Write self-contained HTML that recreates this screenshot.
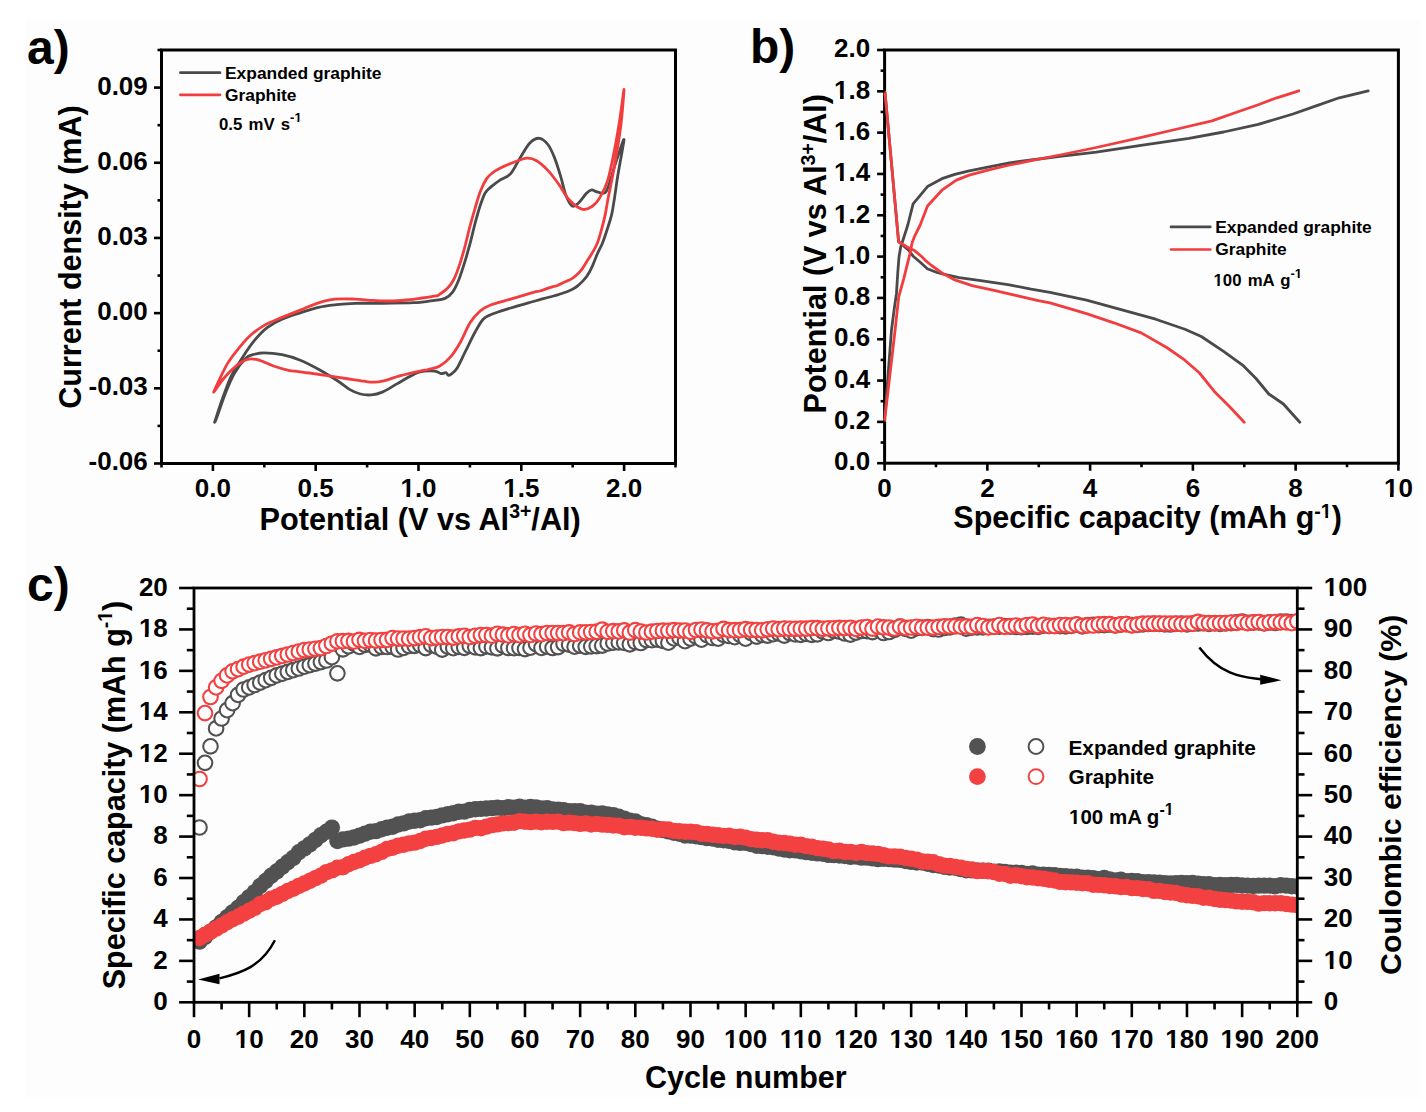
<!DOCTYPE html>
<html><head><meta charset="utf-8"><style>
html,body{margin:0;padding:0;background:#fff;}
svg{display:block;}
text{font-family:"Liberation Sans",sans-serif;font-weight:bold;fill:#000;}
</style></head><body>
<svg width="1426" height="1112" viewBox="0 0 1426 1112" font-family="Liberation Sans, sans-serif" font-weight="bold">
<rect x="0" y="0" width="1426" height="1112" fill="#ffffff"></rect>
<rect x="26" y="19" width="1395" height="1079" fill="#fdfdfd"></rect>
<defs><clipPath id="ca"><rect x="161.5" y="50.0" width="514.0" height="413.5"></rect></clipPath>
<clipPath id="cb"><rect x="883" y="48.5" width="517" height="416.2"></rect></clipPath>
<clipPath id="cc"><rect x="194" y="588" width="1103.4" height="414.3"></rect></clipPath></defs>
<rect x="161.5" y="50.0" width="514.0" height="413.5" fill="none" stroke="#000" stroke-width="3.0"></rect>
<g clip-path="url(#ca)" fill="none" stroke-width="2.8" stroke-linejoin="round" stroke-linecap="round">
<path d="M214.6,422.2 C215.8,418.6 219.2,407.9 221.9,400.3 C224.6,392.7 227.7,383.6 231.0,376.6 C234.3,369.6 238.0,364.5 241.9,358.4 C245.8,352.3 250.4,345.4 254.7,340.2 C259.0,335.0 262.9,330.9 267.5,327.4 C272.1,323.9 276.5,321.6 282.0,319.2 C287.5,316.8 294.2,314.8 300.3,312.8 C306.4,310.8 312.4,308.7 318.5,307.3 C324.6,305.9 330.6,305.3 336.7,304.6 C342.8,303.9 347.4,303.5 355.0,303.3 C362.6,303.1 373.2,303.4 382.3,303.3 C391.4,303.2 403.4,303.0 409.7,302.8 C416.0,302.6 416.1,302.7 420.0,302.3 C423.9,301.9 428.8,301.4 433.0,300.7 C437.2,300.0 441.7,299.8 445.0,298.4 C448.3,297.0 450.3,295.2 452.6,292.1 C454.9,289.0 456.8,284.8 458.9,279.5 C461.0,274.2 463.3,266.7 465.2,260.6 C467.1,254.5 468.5,249.3 470.2,243.0 C471.9,236.7 473.5,229.2 475.2,222.9 C476.9,216.6 478.6,210.3 480.3,205.3 C482.0,200.3 483.4,195.8 485.3,192.7 C487.2,189.5 489.2,188.5 491.6,186.4 C494.1,184.3 496.8,182.2 500.0,180.1 C503.2,178.0 507.3,177.4 510.7,173.6 C514.1,169.8 517.2,162.5 520.4,157.4 C523.6,152.3 526.9,146.0 530.1,142.8 C533.3,139.6 536.5,138.0 539.5,138.3 C542.5,138.6 545.4,141.3 547.9,144.5 C550.4,147.7 552.2,152.0 554.4,157.4 C556.5,162.8 558.9,170.6 560.8,176.8 C562.7,183.0 563.8,189.8 565.7,194.7 C567.6,199.6 570.0,204.7 572.2,206.0 C574.4,207.3 576.3,204.9 578.7,202.7 C581.1,200.5 584.6,195.2 586.7,193.0 C588.9,190.8 589.7,189.9 591.6,189.8 C593.5,189.7 595.7,191.9 598.1,192.2 C600.5,192.5 603.5,195.6 606.2,191.4 C608.9,187.2 611.9,174.4 614.3,167.1 C616.7,159.8 619.1,152.3 620.7,147.7 C622.3,143.1 623.9,138.5 624.0,139.6 C624.1,140.7 622.7,147.9 621.6,154.2 C620.5,160.5 618.7,169.9 617.5,177.5 C616.3,185.1 615.2,193.8 614.2,200.0 C613.2,206.2 612.8,209.6 611.7,214.4 C610.6,219.2 609.0,224.0 607.4,228.8 C605.8,233.6 604.1,239.0 602.4,243.2 C600.7,247.4 599.1,249.9 597.3,254.0 C595.5,258.1 593.4,264.0 591.7,267.6 C590.0,271.2 588.7,273.4 587.2,275.7 C585.7,277.9 584.4,279.3 582.7,281.1 C581.0,282.9 578.8,285.1 576.9,286.5 C575.0,287.9 573.9,288.6 571.5,289.7 C569.1,290.8 565.5,292.2 562.5,293.3 C559.5,294.4 557.2,294.9 553.5,296.0 C549.8,297.1 543.4,298.7 540.0,299.6 C536.6,300.5 538.2,300.1 533.3,301.5 C528.4,302.9 517.7,305.8 510.7,308.0 C503.7,310.2 495.8,312.6 491.2,314.5 C486.6,316.4 485.8,316.3 483.1,319.3 C480.4,322.3 478.0,326.9 475.0,332.3 C472.0,337.7 468.3,345.8 465.3,351.7 C462.3,357.6 459.6,364.1 457.2,367.9 C454.8,371.7 452.3,373.2 450.8,374.4 C449.3,375.6 449.1,375.5 448.3,375.2 C447.5,374.9 447.1,373.0 445.9,372.7 C444.7,372.4 442.9,373.9 441.0,373.6 C439.1,373.3 438.1,371.4 434.6,371.1 C431.1,370.8 424.1,371.0 420.0,371.9 C415.9,372.8 413.6,374.6 409.7,376.6 C405.8,378.6 401.5,381.3 396.9,383.9 C392.3,386.5 386.6,390.3 382.3,392.1 C378.1,393.9 375.0,394.6 371.4,394.9 C367.8,395.2 364.0,394.9 360.4,394.0 C356.8,393.1 353.4,391.7 349.5,389.4 C345.6,387.1 341.9,383.6 336.7,380.3 C331.5,377.0 324.6,372.7 318.5,369.3 C312.4,365.9 306.4,362.6 300.3,360.2 C294.2,357.8 288.1,355.9 282.0,354.7 C275.9,353.5 268.7,352.9 263.8,352.9 C258.9,352.9 255.9,353.8 252.9,354.7 C249.9,355.6 248.7,355.3 245.6,358.4 C242.5,361.4 237.9,367.2 234.6,373.0 C231.2,378.8 228.5,385.4 225.5,393.0 C222.5,400.6 218.2,413.7 216.4,418.6 C214.6,423.5 214.9,421.6 214.6,422.2" stroke="#4a4a4a"></path>
<path d="M213.7,392.1 C214.4,390.4 215.9,386.8 218.2,382.1 C220.5,377.4 224.2,369.1 227.3,363.9 C230.4,358.7 232.8,355.7 236.5,351.1 C240.2,346.5 244.6,340.8 249.2,336.5 C253.8,332.2 258.3,328.8 263.8,325.6 C269.3,322.4 275.9,320.0 282.0,317.4 C288.1,314.8 294.2,312.5 300.3,310.1 C306.4,307.7 312.7,304.6 318.5,302.8 C324.3,301.0 328.8,299.7 334.9,299.1 C341.0,298.5 348.6,298.9 355.0,299.1 C361.4,299.3 367.1,300.1 373.2,300.4 C379.3,300.7 385.3,301.1 391.4,301.0 C397.5,300.9 404.9,300.1 409.7,299.7 C414.5,299.2 415.6,298.9 420.0,298.3 C424.4,297.7 432.9,296.6 436.2,295.9 C439.5,295.2 438.1,295.3 440.0,294.0 C441.9,292.7 445.2,290.7 447.5,288.3 C449.8,285.9 451.7,283.7 453.8,279.5 C455.9,275.3 458.2,268.8 460.1,263.1 C462.0,257.4 463.5,251.8 465.2,245.5 C466.9,239.2 468.5,231.7 470.2,225.4 C471.9,219.1 473.5,213.5 475.2,207.8 C476.9,202.1 478.4,196.2 480.3,191.4 C482.2,186.6 484.4,182.0 486.5,178.9 C488.6,175.8 490.6,174.4 492.8,172.6 C495.1,170.8 496.5,169.9 500.0,168.2 C503.5,166.5 509.4,164.0 513.9,162.3 C518.4,160.6 523.0,158.5 526.8,158.2 C530.6,157.9 533.1,158.7 536.6,160.7 C540.1,162.7 544.1,166.4 547.9,170.4 C551.7,174.4 555.7,180.1 559.2,184.9 C562.7,189.8 565.1,195.4 568.9,199.5 C572.7,203.6 578.1,208.0 581.9,209.2 C585.7,210.4 588.6,208.7 591.6,206.8 C594.6,204.9 597.0,202.4 599.7,197.9 C602.4,193.4 605.4,187.9 607.8,180.1 C610.2,172.3 612.3,161.2 614.3,150.9 C616.3,140.7 618.3,128.8 619.9,118.6 C621.5,108.3 623.9,88.1 624.0,89.4 C624.1,90.8 622.3,113.8 620.7,126.7 C619.1,139.7 616.4,154.9 614.3,167.1 C612.1,179.3 609.3,192.1 607.8,200.0 C606.3,207.9 606.3,209.6 605.3,214.4 C604.3,219.2 603.0,224.0 601.7,228.8 C600.4,233.6 599.0,239.0 597.3,243.2 C595.6,247.4 593.2,251.2 591.6,254.0 C590.0,256.8 589.2,257.6 587.7,260.0 C586.2,262.4 584.3,265.9 582.7,268.1 C581.1,270.4 580.1,271.7 578.2,273.5 C576.3,275.3 573.8,277.5 571.5,278.9 C569.2,280.3 567.0,280.9 564.7,282.0 C562.5,283.1 560.6,284.2 558.0,285.2 C555.4,286.2 552.0,286.9 549.0,287.9 C546.0,288.9 542.6,290.3 540.0,291.0 C537.4,291.7 538.2,290.9 533.3,292.3 C528.4,293.7 517.7,297.0 510.7,299.1 C503.7,301.2 496.3,302.8 491.2,304.8 C486.1,306.8 483.4,308.2 479.9,311.2 C476.4,314.2 473.4,317.5 470.2,322.6 C467.0,327.7 463.7,336.3 460.5,342.0 C457.3,347.7 454.3,352.6 450.8,356.6 C447.3,360.7 443.2,364.2 439.4,366.3 C435.6,368.4 431.3,368.7 428.1,369.5 C424.9,370.3 424.6,370.1 420.0,371.1 C415.4,372.1 406.8,374.0 400.5,375.7 C394.2,377.4 386.9,380.1 382.3,381.2 C377.8,382.3 376.2,382.1 373.2,382.1 C370.2,382.1 368.7,381.8 364.1,381.2 C359.6,380.6 352.0,379.4 345.9,378.5 C339.8,377.6 333.7,376.6 327.6,375.7 C321.5,374.8 314.9,373.8 309.4,373.0 C303.9,372.2 298.4,371.7 294.8,371.2 C291.2,370.7 291.1,371.1 287.5,370.2 C283.9,369.3 277.8,367.4 272.9,365.7 C268.0,364.0 262.6,361.0 258.3,359.9 C254.1,358.8 251.0,358.3 247.4,359.3 C243.8,360.3 240.4,362.5 236.5,365.7 C232.6,368.9 227.3,374.2 223.7,378.5 C220.0,382.8 216.1,389.1 214.6,391.2" stroke="#f23d3f"></path>
</g>
<line x1="154.00" y1="463.50" x2="161.50" y2="463.50" stroke="#000" stroke-width="2.6" stroke-linecap="butt"></line>
<line x1="157.50" y1="425.91" x2="161.50" y2="425.91" stroke="#000" stroke-width="2.6" stroke-linecap="butt"></line>
<line x1="154.00" y1="388.32" x2="161.50" y2="388.32" stroke="#000" stroke-width="2.6" stroke-linecap="butt"></line>
<line x1="157.50" y1="350.73" x2="161.50" y2="350.73" stroke="#000" stroke-width="2.6" stroke-linecap="butt"></line>
<line x1="154.00" y1="313.14" x2="161.50" y2="313.14" stroke="#000" stroke-width="2.6" stroke-linecap="butt"></line>
<line x1="157.50" y1="275.55" x2="161.50" y2="275.55" stroke="#000" stroke-width="2.6" stroke-linecap="butt"></line>
<line x1="154.00" y1="237.95" x2="161.50" y2="237.95" stroke="#000" stroke-width="2.6" stroke-linecap="butt"></line>
<line x1="157.50" y1="200.36" x2="161.50" y2="200.36" stroke="#000" stroke-width="2.6" stroke-linecap="butt"></line>
<line x1="154.00" y1="162.77" x2="161.50" y2="162.77" stroke="#000" stroke-width="2.6" stroke-linecap="butt"></line>
<line x1="157.50" y1="125.18" x2="161.50" y2="125.18" stroke="#000" stroke-width="2.6" stroke-linecap="butt"></line>
<line x1="154.00" y1="87.59" x2="161.50" y2="87.59" stroke="#000" stroke-width="2.6" stroke-linecap="butt"></line>
<line x1="157.50" y1="50.00" x2="161.50" y2="50.00" stroke="#000" stroke-width="2.6" stroke-linecap="butt"></line>
<text x="147.8" y="470.4" font-size="26" text-anchor="end">-0.06</text>
<text x="147.8" y="395.2" font-size="26" text-anchor="end">-0.03</text>
<text x="147.8" y="320.0" font-size="26" text-anchor="end">0.00</text>
<text x="147.8" y="244.9" font-size="26" text-anchor="end">0.03</text>
<text x="147.8" y="169.7" font-size="26" text-anchor="end">0.06</text>
<text x="147.8" y="94.5" font-size="26" text-anchor="end">0.09</text>
<line x1="161.50" y1="463.50" x2="161.50" y2="467.50" stroke="#000" stroke-width="2.6" stroke-linecap="butt"></line>
<line x1="212.90" y1="463.50" x2="212.90" y2="471.00" stroke="#000" stroke-width="2.6" stroke-linecap="butt"></line>
<line x1="264.30" y1="463.50" x2="264.30" y2="467.50" stroke="#000" stroke-width="2.6" stroke-linecap="butt"></line>
<line x1="315.70" y1="463.50" x2="315.70" y2="471.00" stroke="#000" stroke-width="2.6" stroke-linecap="butt"></line>
<line x1="367.10" y1="463.50" x2="367.10" y2="467.50" stroke="#000" stroke-width="2.6" stroke-linecap="butt"></line>
<line x1="418.50" y1="463.50" x2="418.50" y2="471.00" stroke="#000" stroke-width="2.6" stroke-linecap="butt"></line>
<line x1="469.90" y1="463.50" x2="469.90" y2="467.50" stroke="#000" stroke-width="2.6" stroke-linecap="butt"></line>
<line x1="521.30" y1="463.50" x2="521.30" y2="471.00" stroke="#000" stroke-width="2.6" stroke-linecap="butt"></line>
<line x1="572.70" y1="463.50" x2="572.70" y2="467.50" stroke="#000" stroke-width="2.6" stroke-linecap="butt"></line>
<line x1="624.10" y1="463.50" x2="624.10" y2="471.00" stroke="#000" stroke-width="2.6" stroke-linecap="butt"></line>
<line x1="675.50" y1="463.50" x2="675.50" y2="467.50" stroke="#000" stroke-width="2.6" stroke-linecap="butt"></line>
<text x="212.9" y="497.0" font-size="26" text-anchor="middle">0.0</text>
<text x="315.7" y="497.0" font-size="26" text-anchor="middle">0.5</text>
<text x="418.5" y="497.0" font-size="26" text-anchor="middle">1.0</text><rect x="410.11" y="493.75" width="5.15" height="3.95" fill="#fdfdfd"></rect><rect x="400.96" y="493.75" width="5.48" height="3.95" fill="#fdfdfd"></rect>
<text x="521.3" y="497.0" font-size="26" text-anchor="middle">1.5</text><rect x="512.91" y="493.75" width="5.15" height="3.95" fill="#fdfdfd"></rect><rect x="503.76" y="493.75" width="5.48" height="3.95" fill="#fdfdfd"></rect>
<text x="624.1" y="497.0" font-size="26" text-anchor="middle">2.0</text>
<text x="259.6" y="530.2" font-size="30.7">Potential (V vs Al<tspan font-size="19.5" dy="-11.8">3+</tspan><tspan dy="11.8">/Al)</tspan></text>
<g transform="translate(80.5,257) rotate(-90)"><text x="0" y="0" font-size="30.5" text-anchor="middle">Current density (mA)</text></g>
<text x="27.0" y="64.0" font-size="48" text-anchor="start">a)</text>
<line x1="180.40" y1="72.70" x2="220.00" y2="72.70" stroke="#4a4a4a" stroke-width="2.7" stroke-linecap="round"></line>
<line x1="180.40" y1="94.80" x2="220.00" y2="94.80" stroke="#f23d3f" stroke-width="2.7" stroke-linecap="round"></line>
<text x="225.0" y="78.9" font-size="17.4" text-anchor="start">Expanded graphite</text>
<text x="225.0" y="100.5" font-size="17.4" text-anchor="start">Graphite</text>
<text x="219" y="129.8" font-size="16.8" word-spacing="1.5">0.5 mV s<tspan font-size="13" dy="-7.4">-1</tspan></text><rect x="299.31" y="120.47" width="3.10" height="2.63" fill="#fdfdfd"></rect><rect x="294.16" y="120.47" width="3.27" height="2.63" fill="#fdfdfd"></rect>
<rect x="884.6" y="50.0" width="513.8000000000001" height="413.2" fill="none" stroke="#000" stroke-width="3.0"></rect>
<g clip-path="url(#cb)" fill="none" stroke-width="2.8" stroke-linejoin="round" stroke-linecap="round">
<path d="M885.0,415.0 L891.5,330.0 L894.4,307.6 L896.5,293.2 L897.8,272.0 L899.0,257.0 L900.8,246.6 L903.5,238.5 L907.8,225.0 L913.1,203.9 L927.5,186.6 L941.9,178.7 L954.8,174.4 L969.2,170.8 L987.9,167.2 L1009.5,162.9 L1031.1,160.0 L1060.0,156.4 L1096.3,152.2 L1142.6,145.2 L1188.9,138.3 L1223.6,132.0 L1258.3,124.4 L1293.0,114.0 L1316.1,105.9 L1339.3,97.8 L1368.2,90.8" stroke="#4a4a4a"></path>
<path d="M885.0,92.4 L898.6,241.7 L908.9,250.4 L913.2,256.3 L920.8,262.8 L927.3,268.7 L937.0,272.5 L943.3,274.1 L959.1,277.7 L980.7,280.6 L1009.5,284.9 L1031.1,289.2 L1050.0,292.4 L1086.5,300.1 L1122.9,310.1 L1155.7,319.2 L1184.9,329.2 L1201.3,336.5 L1223.2,351.1 L1243.3,365.7 L1256.0,378.5 L1268.8,394.0 L1283.4,404.0 L1299.8,422.2" stroke="#4a4a4a"></path>
<path d="M884.6,420.7 L895.1,330.0 L898.7,296.8 L903.7,278.8 L907.3,264.4 L910.3,252.3 L912.1,242.8 L914.8,235.8 L920.2,225.0 L927.5,206.0 L941.9,190.2 L956.3,180.1 L969.2,175.1 L987.9,170.1 L1009.5,165.0 L1031.1,160.7 L1060.0,155.0 L1096.3,147.5 L1142.6,137.1 L1177.3,129.0 L1212.0,120.9 L1235.1,112.8 L1258.3,104.7 L1276.8,97.8 L1298.8,90.8" stroke="#f23d3f"></path>
<path d="M885.0,92.4 L898.6,241.7 L910.0,248.7 L914.3,250.4 L921.9,256.8 L926.2,261.2 L931.6,265.5 L943.0,273.6 L954.8,279.9 L972.1,285.6 L995.1,290.6 L1016.7,295.7 L1038.3,300.7 L1050.0,302.8 L1086.5,313.7 L1113.8,322.8 L1141.2,332.9 L1166.7,347.5 L1184.9,360.2 L1199.5,373.0 L1214.1,391.2 L1228.7,405.8 L1244.2,422.2" stroke="#f23d3f"></path>
</g>
<line x1="877.10" y1="463.20" x2="884.60" y2="463.20" stroke="#000" stroke-width="2.6" stroke-linecap="butt"></line>
<line x1="880.60" y1="442.54" x2="884.60" y2="442.54" stroke="#000" stroke-width="2.6" stroke-linecap="butt"></line>
<line x1="877.10" y1="421.88" x2="884.60" y2="421.88" stroke="#000" stroke-width="2.6" stroke-linecap="butt"></line>
<line x1="880.60" y1="401.22" x2="884.60" y2="401.22" stroke="#000" stroke-width="2.6" stroke-linecap="butt"></line>
<line x1="877.10" y1="380.56" x2="884.60" y2="380.56" stroke="#000" stroke-width="2.6" stroke-linecap="butt"></line>
<line x1="880.60" y1="359.90" x2="884.60" y2="359.90" stroke="#000" stroke-width="2.6" stroke-linecap="butt"></line>
<line x1="877.10" y1="339.24" x2="884.60" y2="339.24" stroke="#000" stroke-width="2.6" stroke-linecap="butt"></line>
<line x1="880.60" y1="318.58" x2="884.60" y2="318.58" stroke="#000" stroke-width="2.6" stroke-linecap="butt"></line>
<line x1="877.10" y1="297.92" x2="884.60" y2="297.92" stroke="#000" stroke-width="2.6" stroke-linecap="butt"></line>
<line x1="880.60" y1="277.26" x2="884.60" y2="277.26" stroke="#000" stroke-width="2.6" stroke-linecap="butt"></line>
<line x1="877.10" y1="256.60" x2="884.60" y2="256.60" stroke="#000" stroke-width="2.6" stroke-linecap="butt"></line>
<line x1="880.60" y1="235.94" x2="884.60" y2="235.94" stroke="#000" stroke-width="2.6" stroke-linecap="butt"></line>
<line x1="877.10" y1="215.28" x2="884.60" y2="215.28" stroke="#000" stroke-width="2.6" stroke-linecap="butt"></line>
<line x1="880.60" y1="194.62" x2="884.60" y2="194.62" stroke="#000" stroke-width="2.6" stroke-linecap="butt"></line>
<line x1="877.10" y1="173.96" x2="884.60" y2="173.96" stroke="#000" stroke-width="2.6" stroke-linecap="butt"></line>
<line x1="880.60" y1="153.30" x2="884.60" y2="153.30" stroke="#000" stroke-width="2.6" stroke-linecap="butt"></line>
<line x1="877.10" y1="132.64" x2="884.60" y2="132.64" stroke="#000" stroke-width="2.6" stroke-linecap="butt"></line>
<line x1="880.60" y1="111.98" x2="884.60" y2="111.98" stroke="#000" stroke-width="2.6" stroke-linecap="butt"></line>
<line x1="877.10" y1="91.32" x2="884.60" y2="91.32" stroke="#000" stroke-width="2.6" stroke-linecap="butt"></line>
<line x1="880.60" y1="70.66" x2="884.60" y2="70.66" stroke="#000" stroke-width="2.6" stroke-linecap="butt"></line>
<line x1="877.10" y1="50.00" x2="884.60" y2="50.00" stroke="#000" stroke-width="2.6" stroke-linecap="butt"></line>
<text x="870.2" y="470.4" font-size="26" text-anchor="end">0.0</text>
<text x="870.2" y="429.1" font-size="26" text-anchor="end">0.2</text>
<text x="870.2" y="387.8" font-size="26" text-anchor="end">0.4</text>
<text x="870.2" y="346.4" font-size="26" text-anchor="end">0.6</text>
<text x="870.2" y="305.1" font-size="26" text-anchor="end">0.8</text>
<text x="870.2" y="263.8" font-size="26" text-anchor="end">1.0</text><rect x="843.73" y="260.55" width="5.15" height="3.95" fill="#fdfdfd"></rect><rect x="834.58" y="260.55" width="5.48" height="3.95" fill="#fdfdfd"></rect>
<text x="870.2" y="222.5" font-size="26" text-anchor="end">1.2</text><rect x="843.73" y="219.25" width="5.15" height="3.95" fill="#fdfdfd"></rect><rect x="834.58" y="219.25" width="5.48" height="3.95" fill="#fdfdfd"></rect>
<text x="870.2" y="181.2" font-size="26" text-anchor="end">1.4</text><rect x="843.73" y="177.95" width="5.15" height="3.95" fill="#fdfdfd"></rect><rect x="834.58" y="177.95" width="5.48" height="3.95" fill="#fdfdfd"></rect>
<text x="870.2" y="139.8" font-size="26" text-anchor="end">1.6</text><rect x="843.73" y="136.55" width="5.15" height="3.95" fill="#fdfdfd"></rect><rect x="834.58" y="136.55" width="5.48" height="3.95" fill="#fdfdfd"></rect>
<text x="870.2" y="98.5" font-size="26" text-anchor="end">1.8</text><rect x="843.73" y="95.25" width="5.15" height="3.95" fill="#fdfdfd"></rect><rect x="834.58" y="95.25" width="5.48" height="3.95" fill="#fdfdfd"></rect>
<text x="870.2" y="57.2" font-size="26" text-anchor="end">2.0</text>
<line x1="884.60" y1="463.20" x2="884.60" y2="470.70" stroke="#000" stroke-width="2.6" stroke-linecap="butt"></line>
<line x1="935.98" y1="463.20" x2="935.98" y2="467.20" stroke="#000" stroke-width="2.6" stroke-linecap="butt"></line>
<line x1="987.36" y1="463.20" x2="987.36" y2="470.70" stroke="#000" stroke-width="2.6" stroke-linecap="butt"></line>
<line x1="1038.74" y1="463.20" x2="1038.74" y2="467.20" stroke="#000" stroke-width="2.6" stroke-linecap="butt"></line>
<line x1="1090.12" y1="463.20" x2="1090.12" y2="470.70" stroke="#000" stroke-width="2.6" stroke-linecap="butt"></line>
<line x1="1141.50" y1="463.20" x2="1141.50" y2="467.20" stroke="#000" stroke-width="2.6" stroke-linecap="butt"></line>
<line x1="1192.88" y1="463.20" x2="1192.88" y2="470.70" stroke="#000" stroke-width="2.6" stroke-linecap="butt"></line>
<line x1="1244.26" y1="463.20" x2="1244.26" y2="467.20" stroke="#000" stroke-width="2.6" stroke-linecap="butt"></line>
<line x1="1295.64" y1="463.20" x2="1295.64" y2="470.70" stroke="#000" stroke-width="2.6" stroke-linecap="butt"></line>
<line x1="1347.02" y1="463.20" x2="1347.02" y2="467.20" stroke="#000" stroke-width="2.6" stroke-linecap="butt"></line>
<line x1="1398.40" y1="463.20" x2="1398.40" y2="470.70" stroke="#000" stroke-width="2.6" stroke-linecap="butt"></line>
<text x="884.6" y="496.8" font-size="26" text-anchor="middle">0</text>
<text x="987.4" y="496.8" font-size="26" text-anchor="middle">2</text>
<text x="1090.1" y="496.8" font-size="26" text-anchor="middle">4</text>
<text x="1192.9" y="496.8" font-size="26" text-anchor="middle">6</text>
<text x="1295.6" y="496.8" font-size="26" text-anchor="middle">8</text>
<text x="1398.4" y="496.8" font-size="26" text-anchor="middle">10</text><rect x="1393.62" y="493.55" width="5.15" height="3.95" fill="#fdfdfd"></rect><rect x="1384.48" y="493.55" width="5.48" height="3.95" fill="#fdfdfd"></rect>
<g transform="translate(826.3,253.7) rotate(-90)"><text x="0" y="0" font-size="30.5" text-anchor="middle">Potential (V vs Al<tspan font-size="19.5" dy="-11.8">3+</tspan><tspan dy="11.8">/Al)</tspan></text></g>
<text x="1147.6" y="528.2" font-size="30.5" text-anchor="middle">Specific capacity (mAh g<tspan font-size="19.5" dy="-10.5">-1</tspan><tspan dy="10.5">)</tspan></text><rect x="1328.12" y="515.11" width="4.13" height="3.29" fill="#fdfdfd"></rect><rect x="1320.97" y="515.11" width="4.37" height="3.29" fill="#fdfdfd"></rect>
<text x="750.0" y="62.8" font-size="48" text-anchor="start">b)</text>
<line x1="1171.00" y1="226.90" x2="1210.30" y2="226.90" stroke="#4a4a4a" stroke-width="2.7" stroke-linecap="round"></line>
<line x1="1171.00" y1="249.50" x2="1210.30" y2="249.50" stroke="#f23d3f" stroke-width="2.7" stroke-linecap="round"></line>
<text x="1215.2" y="232.6" font-size="17.4" text-anchor="start">Expanded graphite</text>
<text x="1215.2" y="255.2" font-size="17.4" text-anchor="start">Graphite</text>
<text x="1213.5" y="285.8" font-size="16.8" word-spacing="1.5">100 mA g<tspan font-size="13" dy="-7.4">-1</tspan></text><rect x="1299.70" y="276.47" width="3.10" height="2.63" fill="#fdfdfd"></rect><rect x="1294.55" y="276.47" width="3.27" height="2.63" fill="#fdfdfd"></rect><rect x="1219.78" y="283.49" width="3.70" height="3.01" fill="#fdfdfd"></rect><rect x="1213.46" y="283.49" width="3.91" height="3.01" fill="#fdfdfd"></rect>
<g clip-path="url(#cc)">
<g fill="#525252"><circle cx="199.5" cy="941.6" r="8.2"></circle><circle cx="205.0" cy="936.9" r="8.2"></circle><circle cx="210.5" cy="931.8" r="8.2"></circle><circle cx="216.1" cy="927.4" r="8.2"></circle><circle cx="221.6" cy="922.0" r="8.2"></circle><circle cx="227.1" cy="917.3" r="8.2"></circle><circle cx="232.6" cy="912.4" r="8.2"></circle><circle cx="238.1" cy="907.7" r="8.2"></circle><circle cx="243.6" cy="902.2" r="8.2"></circle><circle cx="249.2" cy="897.1" r="8.2"></circle><circle cx="254.7" cy="892.1" r="8.2"></circle><circle cx="260.2" cy="886.0" r="8.2"></circle><circle cx="265.7" cy="881.0" r="8.2"></circle><circle cx="271.2" cy="875.8" r="8.2"></circle><circle cx="276.7" cy="871.5" r="8.2"></circle><circle cx="282.3" cy="866.8" r="8.2"></circle><circle cx="287.8" cy="862.2" r="8.2"></circle><circle cx="293.3" cy="857.9" r="8.2"></circle><circle cx="298.8" cy="852.3" r="8.2"></circle><circle cx="304.3" cy="848.4" r="8.2"></circle><circle cx="309.8" cy="844.4" r="8.2"></circle><circle cx="315.4" cy="839.9" r="8.2"></circle><circle cx="320.9" cy="835.3" r="8.2"></circle><circle cx="326.4" cy="831.7" r="8.2"></circle><circle cx="331.9" cy="827.6" r="8.2"></circle><circle cx="337.4" cy="841.0" r="8.2"></circle><circle cx="342.9" cy="839.4" r="8.2"></circle><circle cx="348.5" cy="838.6" r="8.2"></circle><circle cx="354.0" cy="837.5" r="8.2"></circle><circle cx="359.5" cy="835.6" r="8.2"></circle><circle cx="365.0" cy="833.6" r="8.2"></circle><circle cx="370.5" cy="831.6" r="8.2"></circle><circle cx="376.0" cy="831.1" r="8.2"></circle><circle cx="381.6" cy="829.3" r="8.2"></circle><circle cx="387.1" cy="827.7" r="8.2"></circle><circle cx="392.6" cy="826.7" r="8.2"></circle><circle cx="398.1" cy="824.5" r="8.2"></circle><circle cx="403.6" cy="823.4" r="8.2"></circle><circle cx="409.1" cy="821.5" r="8.2"></circle><circle cx="414.7" cy="820.8" r="8.2"></circle><circle cx="420.2" cy="820.3" r="8.2"></circle><circle cx="425.7" cy="818.3" r="8.2"></circle><circle cx="431.2" cy="817.6" r="8.2"></circle><circle cx="436.7" cy="817.0" r="8.2"></circle><circle cx="442.2" cy="815.4" r="8.2"></circle><circle cx="447.8" cy="814.3" r="8.2"></circle><circle cx="453.3" cy="813.3" r="8.2"></circle><circle cx="458.8" cy="811.8" r="8.2"></circle><circle cx="464.3" cy="811.6" r="8.2"></circle><circle cx="469.8" cy="810.0" r="8.2"></circle><circle cx="475.3" cy="809.2" r="8.2"></circle><circle cx="480.9" cy="808.9" r="8.2"></circle><circle cx="486.4" cy="808.5" r="8.2"></circle><circle cx="491.9" cy="808.1" r="8.2"></circle><circle cx="497.4" cy="807.6" r="8.2"></circle><circle cx="502.9" cy="808.2" r="8.2"></circle><circle cx="508.4" cy="807.1" r="8.2"></circle><circle cx="514.0" cy="807.7" r="8.2"></circle><circle cx="519.5" cy="806.8" r="8.2"></circle><circle cx="525.0" cy="807.7" r="8.2"></circle><circle cx="530.5" cy="807.0" r="8.2"></circle><circle cx="536.0" cy="807.4" r="8.2"></circle><circle cx="541.5" cy="808.4" r="8.2"></circle><circle cx="547.1" cy="808.1" r="8.2"></circle><circle cx="552.6" cy="809.4" r="8.2"></circle><circle cx="558.1" cy="809.6" r="8.2"></circle><circle cx="563.6" cy="810.2" r="8.2"></circle><circle cx="569.1" cy="811.2" r="8.2"></circle><circle cx="574.6" cy="811.1" r="8.2"></circle><circle cx="580.2" cy="811.1" r="8.2"></circle><circle cx="585.7" cy="812.8" r="8.2"></circle><circle cx="591.2" cy="812.6" r="8.2"></circle><circle cx="596.7" cy="813.6" r="8.2"></circle><circle cx="602.2" cy="813.4" r="8.2"></circle><circle cx="607.7" cy="814.4" r="8.2"></circle><circle cx="613.3" cy="815.1" r="8.2"></circle><circle cx="618.8" cy="816.8" r="8.2"></circle><circle cx="624.3" cy="818.6" r="8.2"></circle><circle cx="629.8" cy="820.8" r="8.2"></circle><circle cx="635.3" cy="821.4" r="8.2"></circle><circle cx="640.8" cy="824.1" r="8.2"></circle><circle cx="646.4" cy="825.1" r="8.2"></circle><circle cx="651.9" cy="826.7" r="8.2"></circle><circle cx="657.4" cy="828.8" r="8.2"></circle><circle cx="662.9" cy="830.1" r="8.2"></circle><circle cx="668.4" cy="831.4" r="8.2"></circle><circle cx="673.9" cy="832.7" r="8.2"></circle><circle cx="679.5" cy="833.8" r="8.2"></circle><circle cx="685.0" cy="835.5" r="8.2"></circle><circle cx="690.5" cy="835.6" r="8.2"></circle><circle cx="696.0" cy="836.3" r="8.2"></circle><circle cx="701.5" cy="837.1" r="8.2"></circle><circle cx="707.0" cy="838.1" r="8.2"></circle><circle cx="712.6" cy="838.5" r="8.2"></circle><circle cx="718.1" cy="839.7" r="8.2"></circle><circle cx="723.6" cy="840.3" r="8.2"></circle><circle cx="729.1" cy="840.9" r="8.2"></circle><circle cx="734.6" cy="842.3" r="8.2"></circle><circle cx="740.1" cy="842.9" r="8.2"></circle><circle cx="745.6" cy="842.8" r="8.2"></circle><circle cx="751.2" cy="844.1" r="8.2"></circle><circle cx="756.7" cy="845.8" r="8.2"></circle><circle cx="762.2" cy="846.1" r="8.2"></circle><circle cx="767.7" cy="846.7" r="8.2"></circle><circle cx="773.2" cy="847.3" r="8.2"></circle><circle cx="778.7" cy="848.5" r="8.2"></circle><circle cx="784.3" cy="849.5" r="8.2"></circle><circle cx="789.8" cy="850.2" r="8.2"></circle><circle cx="795.3" cy="850.4" r="8.2"></circle><circle cx="800.8" cy="851.2" r="8.2"></circle><circle cx="806.3" cy="852.1" r="8.2"></circle><circle cx="811.8" cy="852.7" r="8.2"></circle><circle cx="817.4" cy="853.4" r="8.2"></circle><circle cx="822.9" cy="853.7" r="8.2"></circle><circle cx="828.4" cy="854.9" r="8.2"></circle><circle cx="833.9" cy="855.1" r="8.2"></circle><circle cx="839.4" cy="855.5" r="8.2"></circle><circle cx="844.9" cy="856.0" r="8.2"></circle><circle cx="850.5" cy="856.9" r="8.2"></circle><circle cx="856.0" cy="856.5" r="8.2"></circle><circle cx="861.5" cy="857.6" r="8.2"></circle><circle cx="867.0" cy="857.6" r="8.2"></circle><circle cx="872.5" cy="858.4" r="8.2"></circle><circle cx="878.0" cy="859.1" r="8.2"></circle><circle cx="883.6" cy="858.8" r="8.2"></circle><circle cx="889.1" cy="859.1" r="8.2"></circle><circle cx="894.6" cy="859.6" r="8.2"></circle><circle cx="900.1" cy="859.9" r="8.2"></circle><circle cx="905.6" cy="861.0" r="8.2"></circle><circle cx="911.1" cy="861.9" r="8.2"></circle><circle cx="916.7" cy="862.5" r="8.2"></circle><circle cx="922.2" cy="862.5" r="8.2"></circle><circle cx="927.7" cy="863.7" r="8.2"></circle><circle cx="933.2" cy="865.0" r="8.2"></circle><circle cx="938.7" cy="865.5" r="8.2"></circle><circle cx="944.2" cy="866.7" r="8.2"></circle><circle cx="949.8" cy="867.5" r="8.2"></circle><circle cx="955.3" cy="867.8" r="8.2"></circle><circle cx="960.8" cy="869.1" r="8.2"></circle><circle cx="966.3" cy="870.3" r="8.2"></circle><circle cx="971.8" cy="870.4" r="8.2"></circle><circle cx="977.3" cy="870.4" r="8.2"></circle><circle cx="982.9" cy="870.7" r="8.2"></circle><circle cx="988.4" cy="870.7" r="8.2"></circle><circle cx="993.9" cy="871.7" r="8.2"></circle><circle cx="999.4" cy="871.5" r="8.2"></circle><circle cx="1004.9" cy="872.0" r="8.2"></circle><circle cx="1010.4" cy="872.6" r="8.2"></circle><circle cx="1016.0" cy="872.6" r="8.2"></circle><circle cx="1021.5" cy="873.0" r="8.2"></circle><circle cx="1027.0" cy="873.9" r="8.2"></circle><circle cx="1032.5" cy="873.5" r="8.2"></circle><circle cx="1038.0" cy="874.7" r="8.2"></circle><circle cx="1043.5" cy="874.6" r="8.2"></circle><circle cx="1049.1" cy="875.0" r="8.2"></circle><circle cx="1054.6" cy="875.2" r="8.2"></circle><circle cx="1060.1" cy="876.0" r="8.2"></circle><circle cx="1065.6" cy="876.2" r="8.2"></circle><circle cx="1071.1" cy="876.6" r="8.2"></circle><circle cx="1076.6" cy="876.6" r="8.2"></circle><circle cx="1082.2" cy="877.7" r="8.2"></circle><circle cx="1087.7" cy="877.8" r="8.2"></circle><circle cx="1093.2" cy="878.3" r="8.2"></circle><circle cx="1098.7" cy="879.1" r="8.2"></circle><circle cx="1104.2" cy="878.0" r="8.2"></circle><circle cx="1109.7" cy="879.5" r="8.2"></circle><circle cx="1115.3" cy="880.4" r="8.2"></circle><circle cx="1120.8" cy="879.8" r="8.2"></circle><circle cx="1126.3" cy="881.1" r="8.2"></circle><circle cx="1131.8" cy="881.0" r="8.2"></circle><circle cx="1137.3" cy="881.2" r="8.2"></circle><circle cx="1142.8" cy="882.2" r="8.2"></circle><circle cx="1148.4" cy="882.3" r="8.2"></circle><circle cx="1153.9" cy="882.5" r="8.2"></circle><circle cx="1159.4" cy="882.6" r="8.2"></circle><circle cx="1164.9" cy="883.3" r="8.2"></circle><circle cx="1170.4" cy="883.4" r="8.2"></circle><circle cx="1175.9" cy="883.2" r="8.2"></circle><circle cx="1181.5" cy="882.9" r="8.2"></circle><circle cx="1187.0" cy="883.3" r="8.2"></circle><circle cx="1192.5" cy="883.0" r="8.2"></circle><circle cx="1198.0" cy="883.6" r="8.2"></circle><circle cx="1203.5" cy="884.3" r="8.2"></circle><circle cx="1209.0" cy="884.3" r="8.2"></circle><circle cx="1214.6" cy="885.2" r="8.2"></circle><circle cx="1220.1" cy="885.0" r="8.2"></circle><circle cx="1225.6" cy="885.2" r="8.2"></circle><circle cx="1231.1" cy="885.0" r="8.2"></circle><circle cx="1236.6" cy="884.9" r="8.2"></circle><circle cx="1242.1" cy="885.5" r="8.2"></circle><circle cx="1247.7" cy="885.6" r="8.2"></circle><circle cx="1253.2" cy="886.0" r="8.2"></circle><circle cx="1258.7" cy="885.6" r="8.2"></circle><circle cx="1264.2" cy="885.6" r="8.2"></circle><circle cx="1269.7" cy="885.6" r="8.2"></circle><circle cx="1275.2" cy="886.2" r="8.2"></circle><circle cx="1280.8" cy="885.2" r="8.2"></circle><circle cx="1286.3" cy="885.6" r="8.2"></circle><circle cx="1291.8" cy="886.2" r="8.2"></circle><circle cx="1297.3" cy="886.5" r="8.2"></circle></g>
<g fill="#ffffff" stroke="#525252" stroke-width="2.1"><circle cx="199.5" cy="827.5" r="7.3"></circle><circle cx="205.0" cy="762.8" r="7.3"></circle><circle cx="210.5" cy="746.3" r="7.3"></circle><circle cx="216.1" cy="728.4" r="7.3"></circle><circle cx="221.6" cy="718.5" r="7.3"></circle><circle cx="227.1" cy="710.2" r="7.3"></circle><circle cx="232.6" cy="703.2" r="7.3"></circle><circle cx="238.1" cy="694.9" r="7.3"></circle><circle cx="243.6" cy="689.5" r="7.3"></circle><circle cx="249.2" cy="687.4" r="7.3"></circle><circle cx="254.7" cy="685.0" r="7.3"></circle><circle cx="260.2" cy="682.6" r="7.3"></circle><circle cx="265.7" cy="680.2" r="7.3"></circle><circle cx="271.2" cy="677.8" r="7.3"></circle><circle cx="276.7" cy="675.4" r="7.3"></circle><circle cx="282.3" cy="673.7" r="7.3"></circle><circle cx="287.8" cy="671.9" r="7.3"></circle><circle cx="293.3" cy="670.2" r="7.3"></circle><circle cx="298.8" cy="668.5" r="7.3"></circle><circle cx="304.3" cy="666.7" r="7.3"></circle><circle cx="309.8" cy="665.2" r="7.3"></circle><circle cx="315.4" cy="663.6" r="7.3"></circle><circle cx="320.9" cy="662.1" r="7.3"></circle><circle cx="326.4" cy="660.5" r="7.3"></circle><circle cx="331.9" cy="657.2" r="7.3"></circle><circle cx="337.4" cy="673.3" r="7.3"></circle><circle cx="342.9" cy="649.3" r="7.3"></circle><circle cx="348.5" cy="646.3" r="7.3"></circle><circle cx="354.0" cy="643.6" r="7.3"></circle><circle cx="359.5" cy="646.9" r="7.3"></circle><circle cx="365.0" cy="644.8" r="7.3"></circle><circle cx="370.5" cy="644.7" r="7.3"></circle><circle cx="376.0" cy="648.3" r="7.3"></circle><circle cx="381.6" cy="646.8" r="7.3"></circle><circle cx="387.1" cy="647.0" r="7.3"></circle><circle cx="392.6" cy="646.8" r="7.3"></circle><circle cx="398.1" cy="649.5" r="7.3"></circle><circle cx="403.6" cy="647.9" r="7.3"></circle><circle cx="409.1" cy="646.0" r="7.3"></circle><circle cx="414.7" cy="645.8" r="7.3"></circle><circle cx="420.2" cy="645.0" r="7.3"></circle><circle cx="425.7" cy="648.1" r="7.3"></circle><circle cx="431.2" cy="644.9" r="7.3"></circle><circle cx="436.7" cy="646.7" r="7.3"></circle><circle cx="442.2" cy="649.6" r="7.3"></circle><circle cx="447.8" cy="646.6" r="7.3"></circle><circle cx="453.3" cy="648.2" r="7.3"></circle><circle cx="458.8" cy="646.9" r="7.3"></circle><circle cx="464.3" cy="647.8" r="7.3"></circle><circle cx="469.8" cy="645.9" r="7.3"></circle><circle cx="475.3" cy="647.3" r="7.3"></circle><circle cx="480.9" cy="648.1" r="7.3"></circle><circle cx="486.4" cy="646.3" r="7.3"></circle><circle cx="491.9" cy="647.3" r="7.3"></circle><circle cx="497.4" cy="648.3" r="7.3"></circle><circle cx="502.9" cy="645.7" r="7.3"></circle><circle cx="508.4" cy="648.0" r="7.3"></circle><circle cx="514.0" cy="648.2" r="7.3"></circle><circle cx="519.5" cy="647.9" r="7.3"></circle><circle cx="525.0" cy="649.1" r="7.3"></circle><circle cx="530.5" cy="647.7" r="7.3"></circle><circle cx="536.0" cy="644.1" r="7.3"></circle><circle cx="541.5" cy="647.9" r="7.3"></circle><circle cx="547.1" cy="646.5" r="7.3"></circle><circle cx="552.6" cy="648.0" r="7.3"></circle><circle cx="558.1" cy="647.1" r="7.3"></circle><circle cx="563.6" cy="643.9" r="7.3"></circle><circle cx="569.1" cy="644.7" r="7.3"></circle><circle cx="574.6" cy="646.7" r="7.3"></circle><circle cx="580.2" cy="645.7" r="7.3"></circle><circle cx="585.7" cy="646.8" r="7.3"></circle><circle cx="591.2" cy="646.3" r="7.3"></circle><circle cx="596.7" cy="646.1" r="7.3"></circle><circle cx="602.2" cy="645.6" r="7.3"></circle><circle cx="607.7" cy="643.5" r="7.3"></circle><circle cx="613.3" cy="642.7" r="7.3"></circle><circle cx="618.8" cy="642.4" r="7.3"></circle><circle cx="624.3" cy="642.9" r="7.3"></circle><circle cx="629.8" cy="644.3" r="7.3"></circle><circle cx="635.3" cy="642.1" r="7.3"></circle><circle cx="640.8" cy="643.0" r="7.3"></circle><circle cx="646.4" cy="640.1" r="7.3"></circle><circle cx="651.9" cy="640.2" r="7.3"></circle><circle cx="657.4" cy="639.6" r="7.3"></circle><circle cx="662.9" cy="640.9" r="7.3"></circle><circle cx="668.4" cy="642.7" r="7.3"></circle><circle cx="673.9" cy="638.4" r="7.3"></circle><circle cx="679.5" cy="637.6" r="7.3"></circle><circle cx="685.0" cy="641.2" r="7.3"></circle><circle cx="690.5" cy="638.6" r="7.3"></circle><circle cx="696.0" cy="636.7" r="7.3"></circle><circle cx="701.5" cy="639.7" r="7.3"></circle><circle cx="707.0" cy="635.2" r="7.3"></circle><circle cx="712.6" cy="638.0" r="7.3"></circle><circle cx="718.1" cy="638.7" r="7.3"></circle><circle cx="723.6" cy="634.8" r="7.3"></circle><circle cx="729.1" cy="636.0" r="7.3"></circle><circle cx="734.6" cy="637.2" r="7.3"></circle><circle cx="740.1" cy="634.8" r="7.3"></circle><circle cx="745.6" cy="638.7" r="7.3"></circle><circle cx="751.2" cy="633.0" r="7.3"></circle><circle cx="756.7" cy="636.6" r="7.3"></circle><circle cx="762.2" cy="634.8" r="7.3"></circle><circle cx="767.7" cy="635.6" r="7.3"></circle><circle cx="773.2" cy="634.2" r="7.3"></circle><circle cx="778.7" cy="633.3" r="7.3"></circle><circle cx="784.3" cy="635.6" r="7.3"></circle><circle cx="789.8" cy="633.1" r="7.3"></circle><circle cx="795.3" cy="634.4" r="7.3"></circle><circle cx="800.8" cy="634.8" r="7.3"></circle><circle cx="806.3" cy="633.9" r="7.3"></circle><circle cx="811.8" cy="634.8" r="7.3"></circle><circle cx="817.4" cy="634.3" r="7.3"></circle><circle cx="822.9" cy="631.6" r="7.3"></circle><circle cx="828.4" cy="633.0" r="7.3"></circle><circle cx="833.9" cy="630.9" r="7.3"></circle><circle cx="839.4" cy="631.7" r="7.3"></circle><circle cx="844.9" cy="633.5" r="7.3"></circle><circle cx="850.5" cy="634.6" r="7.3"></circle><circle cx="856.0" cy="632.6" r="7.3"></circle><circle cx="861.5" cy="631.0" r="7.3"></circle><circle cx="867.0" cy="631.1" r="7.3"></circle><circle cx="872.5" cy="632.1" r="7.3"></circle><circle cx="878.0" cy="629.2" r="7.3"></circle><circle cx="883.6" cy="633.0" r="7.3"></circle><circle cx="889.1" cy="632.0" r="7.3"></circle><circle cx="894.6" cy="629.8" r="7.3"></circle><circle cx="900.1" cy="626.6" r="7.3"></circle><circle cx="905.6" cy="628.9" r="7.3"></circle><circle cx="911.1" cy="630.7" r="7.3"></circle><circle cx="916.7" cy="628.2" r="7.3"></circle><circle cx="922.2" cy="627.8" r="7.3"></circle><circle cx="927.7" cy="627.2" r="7.3"></circle><circle cx="933.2" cy="629.1" r="7.3"></circle><circle cx="938.7" cy="629.5" r="7.3"></circle><circle cx="944.2" cy="628.0" r="7.3"></circle><circle cx="949.8" cy="627.4" r="7.3"></circle><circle cx="955.3" cy="625.6" r="7.3"></circle><circle cx="960.8" cy="624.7" r="7.3"></circle><circle cx="966.3" cy="628.7" r="7.3"></circle><circle cx="971.8" cy="627.7" r="7.3"></circle><circle cx="977.3" cy="627.4" r="7.3"></circle><circle cx="982.9" cy="627.3" r="7.3"></circle><circle cx="988.4" cy="626.9" r="7.3"></circle><circle cx="993.9" cy="626.7" r="7.3"></circle><circle cx="999.4" cy="626.7" r="7.3"></circle><circle cx="1004.9" cy="626.2" r="7.3"></circle><circle cx="1010.4" cy="626.7" r="7.3"></circle><circle cx="1016.0" cy="627.0" r="7.3"></circle><circle cx="1021.5" cy="627.1" r="7.3"></circle><circle cx="1027.0" cy="626.8" r="7.3"></circle><circle cx="1032.5" cy="626.7" r="7.3"></circle><circle cx="1038.0" cy="626.9" r="7.3"></circle><circle cx="1043.5" cy="625.7" r="7.3"></circle><circle cx="1049.1" cy="625.8" r="7.3"></circle><circle cx="1054.6" cy="626.0" r="7.3"></circle><circle cx="1060.1" cy="626.1" r="7.3"></circle><circle cx="1065.6" cy="626.3" r="7.3"></circle><circle cx="1071.1" cy="625.9" r="7.3"></circle><circle cx="1076.6" cy="624.7" r="7.3"></circle><circle cx="1082.2" cy="626.3" r="7.3"></circle><circle cx="1087.7" cy="625.2" r="7.3"></circle><circle cx="1093.2" cy="624.9" r="7.3"></circle><circle cx="1098.7" cy="625.1" r="7.3"></circle><circle cx="1104.2" cy="625.2" r="7.3"></circle><circle cx="1109.7" cy="624.6" r="7.3"></circle><circle cx="1115.3" cy="625.4" r="7.3"></circle><circle cx="1120.8" cy="624.6" r="7.3"></circle><circle cx="1126.3" cy="624.1" r="7.3"></circle><circle cx="1131.8" cy="625.1" r="7.3"></circle><circle cx="1137.3" cy="624.9" r="7.3"></circle><circle cx="1142.8" cy="624.4" r="7.3"></circle><circle cx="1148.4" cy="624.0" r="7.3"></circle><circle cx="1153.9" cy="623.7" r="7.3"></circle><circle cx="1159.4" cy="623.9" r="7.3"></circle><circle cx="1164.9" cy="624.4" r="7.3"></circle><circle cx="1170.4" cy="624.5" r="7.3"></circle><circle cx="1175.9" cy="623.9" r="7.3"></circle><circle cx="1181.5" cy="623.7" r="7.3"></circle><circle cx="1187.0" cy="624.3" r="7.3"></circle><circle cx="1192.5" cy="623.7" r="7.3"></circle><circle cx="1198.0" cy="623.5" r="7.3"></circle><circle cx="1203.5" cy="623.1" r="7.3"></circle><circle cx="1209.0" cy="623.9" r="7.3"></circle><circle cx="1214.6" cy="623.2" r="7.3"></circle><circle cx="1220.1" cy="623.8" r="7.3"></circle><circle cx="1225.6" cy="623.4" r="7.3"></circle><circle cx="1231.1" cy="623.2" r="7.3"></circle><circle cx="1236.6" cy="622.4" r="7.3"></circle><circle cx="1242.1" cy="621.6" r="7.3"></circle><circle cx="1247.7" cy="622.8" r="7.3"></circle><circle cx="1253.2" cy="622.6" r="7.3"></circle><circle cx="1258.7" cy="622.3" r="7.3"></circle><circle cx="1264.2" cy="623.3" r="7.3"></circle><circle cx="1269.7" cy="622.3" r="7.3"></circle><circle cx="1275.2" cy="623.0" r="7.3"></circle><circle cx="1280.8" cy="621.7" r="7.3"></circle><circle cx="1286.3" cy="621.7" r="7.3"></circle><circle cx="1291.8" cy="622.0" r="7.3"></circle><circle cx="1297.3" cy="622.5" r="7.3"></circle></g>
<g fill="#f34141"><circle cx="199.5" cy="938.0" r="8.2"></circle><circle cx="205.0" cy="934.8" r="8.2"></circle><circle cx="210.5" cy="931.8" r="8.2"></circle><circle cx="216.1" cy="928.6" r="8.2"></circle><circle cx="221.6" cy="925.5" r="8.2"></circle><circle cx="227.1" cy="922.3" r="8.2"></circle><circle cx="232.6" cy="919.3" r="8.2"></circle><circle cx="238.1" cy="916.8" r="8.2"></circle><circle cx="243.6" cy="913.6" r="8.2"></circle><circle cx="249.2" cy="910.8" r="8.2"></circle><circle cx="254.7" cy="907.9" r="8.2"></circle><circle cx="260.2" cy="904.0" r="8.2"></circle><circle cx="265.7" cy="902.2" r="8.2"></circle><circle cx="271.2" cy="898.6" r="8.2"></circle><circle cx="276.7" cy="896.8" r="8.2"></circle><circle cx="282.3" cy="893.9" r="8.2"></circle><circle cx="287.8" cy="891.0" r="8.2"></circle><circle cx="293.3" cy="888.7" r="8.2"></circle><circle cx="298.8" cy="885.9" r="8.2"></circle><circle cx="304.3" cy="883.5" r="8.2"></circle><circle cx="309.8" cy="880.9" r="8.2"></circle><circle cx="315.4" cy="878.1" r="8.2"></circle><circle cx="320.9" cy="875.6" r="8.2"></circle><circle cx="326.4" cy="872.1" r="8.2"></circle><circle cx="331.9" cy="870.4" r="8.2"></circle><circle cx="337.4" cy="867.7" r="8.2"></circle><circle cx="342.9" cy="867.3" r="8.2"></circle><circle cx="348.5" cy="864.2" r="8.2"></circle><circle cx="354.0" cy="862.0" r="8.2"></circle><circle cx="359.5" cy="860.3" r="8.2"></circle><circle cx="365.0" cy="857.7" r="8.2"></circle><circle cx="370.5" cy="855.9" r="8.2"></circle><circle cx="376.0" cy="854.2" r="8.2"></circle><circle cx="381.6" cy="851.9" r="8.2"></circle><circle cx="387.1" cy="848.9" r="8.2"></circle><circle cx="392.6" cy="847.8" r="8.2"></circle><circle cx="398.1" cy="845.8" r="8.2"></circle><circle cx="403.6" cy="844.8" r="8.2"></circle><circle cx="409.1" cy="843.4" r="8.2"></circle><circle cx="414.7" cy="842.6" r="8.2"></circle><circle cx="420.2" cy="841.0" r="8.2"></circle><circle cx="425.7" cy="838.7" r="8.2"></circle><circle cx="431.2" cy="838.0" r="8.2"></circle><circle cx="436.7" cy="836.9" r="8.2"></circle><circle cx="442.2" cy="835.5" r="8.2"></circle><circle cx="447.8" cy="834.0" r="8.2"></circle><circle cx="453.3" cy="833.2" r="8.2"></circle><circle cx="458.8" cy="831.4" r="8.2"></circle><circle cx="464.3" cy="830.5" r="8.2"></circle><circle cx="469.8" cy="829.6" r="8.2"></circle><circle cx="475.3" cy="827.9" r="8.2"></circle><circle cx="480.9" cy="828.3" r="8.2"></circle><circle cx="486.4" cy="826.6" r="8.2"></circle><circle cx="491.9" cy="825.1" r="8.2"></circle><circle cx="497.4" cy="824.4" r="8.2"></circle><circle cx="502.9" cy="823.4" r="8.2"></circle><circle cx="508.4" cy="823.1" r="8.2"></circle><circle cx="514.0" cy="822.7" r="8.2"></circle><circle cx="519.5" cy="821.1" r="8.2"></circle><circle cx="525.0" cy="821.8" r="8.2"></circle><circle cx="530.5" cy="822.1" r="8.2"></circle><circle cx="536.0" cy="821.6" r="8.2"></circle><circle cx="541.5" cy="822.2" r="8.2"></circle><circle cx="547.1" cy="821.7" r="8.2"></circle><circle cx="552.6" cy="821.9" r="8.2"></circle><circle cx="558.1" cy="821.6" r="8.2"></circle><circle cx="563.6" cy="823.1" r="8.2"></circle><circle cx="569.1" cy="822.6" r="8.2"></circle><circle cx="574.6" cy="823.1" r="8.2"></circle><circle cx="580.2" cy="823.9" r="8.2"></circle><circle cx="585.7" cy="823.4" r="8.2"></circle><circle cx="591.2" cy="824.5" r="8.2"></circle><circle cx="596.7" cy="823.9" r="8.2"></circle><circle cx="602.2" cy="824.6" r="8.2"></circle><circle cx="607.7" cy="824.9" r="8.2"></circle><circle cx="613.3" cy="825.5" r="8.2"></circle><circle cx="618.8" cy="825.6" r="8.2"></circle><circle cx="624.3" cy="827.2" r="8.2"></circle><circle cx="629.8" cy="826.9" r="8.2"></circle><circle cx="635.3" cy="827.7" r="8.2"></circle><circle cx="640.8" cy="827.8" r="8.2"></circle><circle cx="646.4" cy="828.4" r="8.2"></circle><circle cx="651.9" cy="828.7" r="8.2"></circle><circle cx="657.4" cy="829.7" r="8.2"></circle><circle cx="662.9" cy="829.2" r="8.2"></circle><circle cx="668.4" cy="829.5" r="8.2"></circle><circle cx="673.9" cy="830.9" r="8.2"></circle><circle cx="679.5" cy="831.3" r="8.2"></circle><circle cx="685.0" cy="831.7" r="8.2"></circle><circle cx="690.5" cy="831.8" r="8.2"></circle><circle cx="696.0" cy="832.1" r="8.2"></circle><circle cx="701.5" cy="833.7" r="8.2"></circle><circle cx="707.0" cy="834.0" r="8.2"></circle><circle cx="712.6" cy="834.7" r="8.2"></circle><circle cx="718.1" cy="835.2" r="8.2"></circle><circle cx="723.6" cy="835.9" r="8.2"></circle><circle cx="729.1" cy="835.8" r="8.2"></circle><circle cx="734.6" cy="837.0" r="8.2"></circle><circle cx="740.1" cy="836.7" r="8.2"></circle><circle cx="745.6" cy="837.6" r="8.2"></circle><circle cx="751.2" cy="839.1" r="8.2"></circle><circle cx="756.7" cy="839.8" r="8.2"></circle><circle cx="762.2" cy="840.3" r="8.2"></circle><circle cx="767.7" cy="840.3" r="8.2"></circle><circle cx="773.2" cy="841.8" r="8.2"></circle><circle cx="778.7" cy="842.7" r="8.2"></circle><circle cx="784.3" cy="843.0" r="8.2"></circle><circle cx="789.8" cy="843.6" r="8.2"></circle><circle cx="795.3" cy="844.8" r="8.2"></circle><circle cx="800.8" cy="844.8" r="8.2"></circle><circle cx="806.3" cy="846.1" r="8.2"></circle><circle cx="811.8" cy="846.8" r="8.2"></circle><circle cx="817.4" cy="848.1" r="8.2"></circle><circle cx="822.9" cy="848.7" r="8.2"></circle><circle cx="828.4" cy="849.5" r="8.2"></circle><circle cx="833.9" cy="851.1" r="8.2"></circle><circle cx="839.4" cy="850.8" r="8.2"></circle><circle cx="844.9" cy="852.0" r="8.2"></circle><circle cx="850.5" cy="851.9" r="8.2"></circle><circle cx="856.0" cy="852.9" r="8.2"></circle><circle cx="861.5" cy="852.0" r="8.2"></circle><circle cx="867.0" cy="853.1" r="8.2"></circle><circle cx="872.5" cy="853.4" r="8.2"></circle><circle cx="878.0" cy="853.9" r="8.2"></circle><circle cx="883.6" cy="855.3" r="8.2"></circle><circle cx="889.1" cy="856.4" r="8.2"></circle><circle cx="894.6" cy="856.5" r="8.2"></circle><circle cx="900.1" cy="856.8" r="8.2"></circle><circle cx="905.6" cy="858.0" r="8.2"></circle><circle cx="911.1" cy="858.7" r="8.2"></circle><circle cx="916.7" cy="859.6" r="8.2"></circle><circle cx="922.2" cy="861.5" r="8.2"></circle><circle cx="927.7" cy="861.8" r="8.2"></circle><circle cx="933.2" cy="862.2" r="8.2"></circle><circle cx="938.7" cy="864.1" r="8.2"></circle><circle cx="944.2" cy="865.6" r="8.2"></circle><circle cx="949.8" cy="865.9" r="8.2"></circle><circle cx="955.3" cy="867.0" r="8.2"></circle><circle cx="960.8" cy="867.6" r="8.2"></circle><circle cx="966.3" cy="869.0" r="8.2"></circle><circle cx="971.8" cy="869.5" r="8.2"></circle><circle cx="977.3" cy="871.1" r="8.2"></circle><circle cx="982.9" cy="870.7" r="8.2"></circle><circle cx="988.4" cy="871.2" r="8.2"></circle><circle cx="993.9" cy="872.0" r="8.2"></circle><circle cx="999.4" cy="873.8" r="8.2"></circle><circle cx="1004.9" cy="873.9" r="8.2"></circle><circle cx="1010.4" cy="875.8" r="8.2"></circle><circle cx="1016.0" cy="875.3" r="8.2"></circle><circle cx="1021.5" cy="876.2" r="8.2"></circle><circle cx="1027.0" cy="877.3" r="8.2"></circle><circle cx="1032.5" cy="877.5" r="8.2"></circle><circle cx="1038.0" cy="878.3" r="8.2"></circle><circle cx="1043.5" cy="878.8" r="8.2"></circle><circle cx="1049.1" cy="879.8" r="8.2"></circle><circle cx="1054.6" cy="880.5" r="8.2"></circle><circle cx="1060.1" cy="881.9" r="8.2"></circle><circle cx="1065.6" cy="882.2" r="8.2"></circle><circle cx="1071.1" cy="882.4" r="8.2"></circle><circle cx="1076.6" cy="882.7" r="8.2"></circle><circle cx="1082.2" cy="883.3" r="8.2"></circle><circle cx="1087.7" cy="883.3" r="8.2"></circle><circle cx="1093.2" cy="884.7" r="8.2"></circle><circle cx="1098.7" cy="884.9" r="8.2"></circle><circle cx="1104.2" cy="885.3" r="8.2"></circle><circle cx="1109.7" cy="886.0" r="8.2"></circle><circle cx="1115.3" cy="886.2" r="8.2"></circle><circle cx="1120.8" cy="887.1" r="8.2"></circle><circle cx="1126.3" cy="886.9" r="8.2"></circle><circle cx="1131.8" cy="888.1" r="8.2"></circle><circle cx="1137.3" cy="888.1" r="8.2"></circle><circle cx="1142.8" cy="889.0" r="8.2"></circle><circle cx="1148.4" cy="889.1" r="8.2"></circle><circle cx="1153.9" cy="890.9" r="8.2"></circle><circle cx="1159.4" cy="890.9" r="8.2"></circle><circle cx="1164.9" cy="892.0" r="8.2"></circle><circle cx="1170.4" cy="892.5" r="8.2"></circle><circle cx="1175.9" cy="892.9" r="8.2"></circle><circle cx="1181.5" cy="894.5" r="8.2"></circle><circle cx="1187.0" cy="895.3" r="8.2"></circle><circle cx="1192.5" cy="895.9" r="8.2"></circle><circle cx="1198.0" cy="896.2" r="8.2"></circle><circle cx="1203.5" cy="897.7" r="8.2"></circle><circle cx="1209.0" cy="897.7" r="8.2"></circle><circle cx="1214.6" cy="899.0" r="8.2"></circle><circle cx="1220.1" cy="899.7" r="8.2"></circle><circle cx="1225.6" cy="900.1" r="8.2"></circle><circle cx="1231.1" cy="900.6" r="8.2"></circle><circle cx="1236.6" cy="901.4" r="8.2"></circle><circle cx="1242.1" cy="901.7" r="8.2"></circle><circle cx="1247.7" cy="901.9" r="8.2"></circle><circle cx="1253.2" cy="902.3" r="8.2"></circle><circle cx="1258.7" cy="903.6" r="8.2"></circle><circle cx="1264.2" cy="903.1" r="8.2"></circle><circle cx="1269.7" cy="903.2" r="8.2"></circle><circle cx="1275.2" cy="903.2" r="8.2"></circle><circle cx="1280.8" cy="903.2" r="8.2"></circle><circle cx="1286.3" cy="904.0" r="8.2"></circle><circle cx="1291.8" cy="904.6" r="8.2"></circle><circle cx="1297.3" cy="905.3" r="8.2"></circle></g>
<g fill="#ffffff" stroke="#f34141" stroke-width="2.1"><circle cx="199.5" cy="779.0" r="7.3"></circle><circle cx="205.0" cy="713.1" r="7.3"></circle><circle cx="210.5" cy="697.0" r="7.3"></circle><circle cx="216.1" cy="687.4" r="7.3"></circle><circle cx="221.6" cy="680.8" r="7.3"></circle><circle cx="227.1" cy="675.4" r="7.3"></circle><circle cx="232.6" cy="671.3" r="7.3"></circle><circle cx="238.1" cy="669.2" r="7.3"></circle><circle cx="243.6" cy="666.7" r="7.3"></circle><circle cx="249.2" cy="664.6" r="7.3"></circle><circle cx="254.7" cy="663.2" r="7.3"></circle><circle cx="260.2" cy="661.7" r="7.3"></circle><circle cx="265.7" cy="660.3" r="7.3"></circle><circle cx="271.2" cy="658.8" r="7.3"></circle><circle cx="276.7" cy="657.4" r="7.3"></circle><circle cx="282.3" cy="655.9" r="7.3"></circle><circle cx="287.8" cy="654.5" r="7.3"></circle><circle cx="293.3" cy="653.0" r="7.3"></circle><circle cx="298.8" cy="651.6" r="7.3"></circle><circle cx="304.3" cy="650.1" r="7.3"></circle><circle cx="309.8" cy="649.5" r="7.3"></circle><circle cx="315.4" cy="648.8" r="7.3"></circle><circle cx="320.9" cy="648.1" r="7.3"></circle><circle cx="326.4" cy="646.0" r="7.3"></circle><circle cx="331.9" cy="643.5" r="7.3"></circle><circle cx="337.4" cy="641.4" r="7.3"></circle><circle cx="342.9" cy="641.2" r="7.3"></circle><circle cx="348.5" cy="640.9" r="7.3"></circle><circle cx="354.0" cy="641.5" r="7.3"></circle><circle cx="359.5" cy="639.9" r="7.3"></circle><circle cx="365.0" cy="640.8" r="7.3"></circle><circle cx="370.5" cy="640.1" r="7.3"></circle><circle cx="376.0" cy="640.6" r="7.3"></circle><circle cx="381.6" cy="640.0" r="7.3"></circle><circle cx="387.1" cy="639.9" r="7.3"></circle><circle cx="392.6" cy="638.1" r="7.3"></circle><circle cx="398.1" cy="638.6" r="7.3"></circle><circle cx="403.6" cy="638.5" r="7.3"></circle><circle cx="409.1" cy="638.7" r="7.3"></circle><circle cx="414.7" cy="638.1" r="7.3"></circle><circle cx="420.2" cy="637.2" r="7.3"></circle><circle cx="425.7" cy="636.3" r="7.3"></circle><circle cx="431.2" cy="638.1" r="7.3"></circle><circle cx="436.7" cy="637.6" r="7.3"></circle><circle cx="442.2" cy="637.0" r="7.3"></circle><circle cx="447.8" cy="637.1" r="7.3"></circle><circle cx="453.3" cy="637.6" r="7.3"></circle><circle cx="458.8" cy="636.4" r="7.3"></circle><circle cx="464.3" cy="635.8" r="7.3"></circle><circle cx="469.8" cy="637.0" r="7.3"></circle><circle cx="475.3" cy="635.8" r="7.3"></circle><circle cx="480.9" cy="635.1" r="7.3"></circle><circle cx="486.4" cy="635.0" r="7.3"></circle><circle cx="491.9" cy="635.7" r="7.3"></circle><circle cx="497.4" cy="633.8" r="7.3"></circle><circle cx="502.9" cy="634.7" r="7.3"></circle><circle cx="508.4" cy="635.4" r="7.3"></circle><circle cx="514.0" cy="634.1" r="7.3"></circle><circle cx="519.5" cy="635.2" r="7.3"></circle><circle cx="525.0" cy="633.8" r="7.3"></circle><circle cx="530.5" cy="635.0" r="7.3"></circle><circle cx="536.0" cy="633.6" r="7.3"></circle><circle cx="541.5" cy="634.2" r="7.3"></circle><circle cx="547.1" cy="633.0" r="7.3"></circle><circle cx="552.6" cy="633.1" r="7.3"></circle><circle cx="558.1" cy="633.1" r="7.3"></circle><circle cx="563.6" cy="633.2" r="7.3"></circle><circle cx="569.1" cy="632.4" r="7.3"></circle><circle cx="574.6" cy="634.0" r="7.3"></circle><circle cx="580.2" cy="632.4" r="7.3"></circle><circle cx="585.7" cy="632.3" r="7.3"></circle><circle cx="591.2" cy="632.0" r="7.3"></circle><circle cx="596.7" cy="631.7" r="7.3"></circle><circle cx="602.2" cy="629.7" r="7.3"></circle><circle cx="607.7" cy="631.8" r="7.3"></circle><circle cx="613.3" cy="631.2" r="7.3"></circle><circle cx="618.8" cy="631.4" r="7.3"></circle><circle cx="624.3" cy="630.4" r="7.3"></circle><circle cx="629.8" cy="632.6" r="7.3"></circle><circle cx="635.3" cy="630.2" r="7.3"></circle><circle cx="640.8" cy="631.6" r="7.3"></circle><circle cx="646.4" cy="632.5" r="7.3"></circle><circle cx="651.9" cy="631.7" r="7.3"></circle><circle cx="657.4" cy="631.0" r="7.3"></circle><circle cx="662.9" cy="630.7" r="7.3"></circle><circle cx="668.4" cy="630.8" r="7.3"></circle><circle cx="673.9" cy="630.2" r="7.3"></circle><circle cx="679.5" cy="630.6" r="7.3"></circle><circle cx="685.0" cy="630.5" r="7.3"></circle><circle cx="690.5" cy="631.8" r="7.3"></circle><circle cx="696.0" cy="630.0" r="7.3"></circle><circle cx="701.5" cy="629.6" r="7.3"></circle><circle cx="707.0" cy="630.4" r="7.3"></circle><circle cx="712.6" cy="631.3" r="7.3"></circle><circle cx="718.1" cy="630.8" r="7.3"></circle><circle cx="723.6" cy="628.9" r="7.3"></circle><circle cx="729.1" cy="630.2" r="7.3"></circle><circle cx="734.6" cy="630.2" r="7.3"></circle><circle cx="740.1" cy="630.2" r="7.3"></circle><circle cx="745.6" cy="629.2" r="7.3"></circle><circle cx="751.2" cy="629.9" r="7.3"></circle><circle cx="756.7" cy="630.0" r="7.3"></circle><circle cx="762.2" cy="630.3" r="7.3"></circle><circle cx="767.7" cy="629.3" r="7.3"></circle><circle cx="773.2" cy="628.6" r="7.3"></circle><circle cx="778.7" cy="629.2" r="7.3"></circle><circle cx="784.3" cy="628.5" r="7.3"></circle><circle cx="789.8" cy="628.8" r="7.3"></circle><circle cx="795.3" cy="628.8" r="7.3"></circle><circle cx="800.8" cy="628.7" r="7.3"></circle><circle cx="806.3" cy="628.7" r="7.3"></circle><circle cx="811.8" cy="628.0" r="7.3"></circle><circle cx="817.4" cy="628.2" r="7.3"></circle><circle cx="822.9" cy="628.8" r="7.3"></circle><circle cx="828.4" cy="628.3" r="7.3"></circle><circle cx="833.9" cy="628.3" r="7.3"></circle><circle cx="839.4" cy="627.9" r="7.3"></circle><circle cx="844.9" cy="628.0" r="7.3"></circle><circle cx="850.5" cy="627.8" r="7.3"></circle><circle cx="856.0" cy="628.9" r="7.3"></circle><circle cx="861.5" cy="627.6" r="7.3"></circle><circle cx="867.0" cy="627.0" r="7.3"></circle><circle cx="872.5" cy="628.6" r="7.3"></circle><circle cx="878.0" cy="626.6" r="7.3"></circle><circle cx="883.6" cy="627.4" r="7.3"></circle><circle cx="889.1" cy="627.6" r="7.3"></circle><circle cx="894.6" cy="628.5" r="7.3"></circle><circle cx="900.1" cy="626.7" r="7.3"></circle><circle cx="905.6" cy="627.9" r="7.3"></circle><circle cx="911.1" cy="627.5" r="7.3"></circle><circle cx="916.7" cy="626.8" r="7.3"></circle><circle cx="922.2" cy="627.7" r="7.3"></circle><circle cx="927.7" cy="627.6" r="7.3"></circle><circle cx="933.2" cy="627.6" r="7.3"></circle><circle cx="938.7" cy="626.9" r="7.3"></circle><circle cx="944.2" cy="626.4" r="7.3"></circle><circle cx="949.8" cy="626.4" r="7.3"></circle><circle cx="955.3" cy="626.3" r="7.3"></circle><circle cx="960.8" cy="626.7" r="7.3"></circle><circle cx="966.3" cy="626.4" r="7.3"></circle><circle cx="971.8" cy="626.8" r="7.3"></circle><circle cx="977.3" cy="625.1" r="7.3"></circle><circle cx="982.9" cy="626.1" r="7.3"></circle><circle cx="988.4" cy="627.4" r="7.3"></circle><circle cx="993.9" cy="626.8" r="7.3"></circle><circle cx="999.4" cy="625.1" r="7.3"></circle><circle cx="1004.9" cy="626.8" r="7.3"></circle><circle cx="1010.4" cy="626.2" r="7.3"></circle><circle cx="1016.0" cy="625.6" r="7.3"></circle><circle cx="1021.5" cy="626.5" r="7.3"></circle><circle cx="1027.0" cy="625.0" r="7.3"></circle><circle cx="1032.5" cy="624.6" r="7.3"></circle><circle cx="1038.0" cy="626.1" r="7.3"></circle><circle cx="1043.5" cy="624.8" r="7.3"></circle><circle cx="1049.1" cy="626.0" r="7.3"></circle><circle cx="1054.6" cy="626.0" r="7.3"></circle><circle cx="1060.1" cy="625.1" r="7.3"></circle><circle cx="1065.6" cy="625.1" r="7.3"></circle><circle cx="1071.1" cy="625.5" r="7.3"></circle><circle cx="1076.6" cy="624.5" r="7.3"></circle><circle cx="1082.2" cy="625.9" r="7.3"></circle><circle cx="1087.7" cy="625.4" r="7.3"></circle><circle cx="1093.2" cy="625.5" r="7.3"></circle><circle cx="1098.7" cy="624.3" r="7.3"></circle><circle cx="1104.2" cy="624.2" r="7.3"></circle><circle cx="1109.7" cy="624.2" r="7.3"></circle><circle cx="1115.3" cy="625.3" r="7.3"></circle><circle cx="1120.8" cy="624.4" r="7.3"></circle><circle cx="1126.3" cy="624.1" r="7.3"></circle><circle cx="1131.8" cy="625.3" r="7.3"></circle><circle cx="1137.3" cy="624.7" r="7.3"></circle><circle cx="1142.8" cy="623.7" r="7.3"></circle><circle cx="1148.4" cy="623.6" r="7.3"></circle><circle cx="1153.9" cy="623.8" r="7.3"></circle><circle cx="1159.4" cy="623.6" r="7.3"></circle><circle cx="1164.9" cy="623.6" r="7.3"></circle><circle cx="1170.4" cy="623.7" r="7.3"></circle><circle cx="1175.9" cy="623.7" r="7.3"></circle><circle cx="1181.5" cy="624.1" r="7.3"></circle><circle cx="1187.0" cy="623.7" r="7.3"></circle><circle cx="1192.5" cy="623.7" r="7.3"></circle><circle cx="1198.0" cy="621.9" r="7.3"></circle><circle cx="1203.5" cy="623.1" r="7.3"></circle><circle cx="1209.0" cy="623.2" r="7.3"></circle><circle cx="1214.6" cy="623.3" r="7.3"></circle><circle cx="1220.1" cy="623.1" r="7.3"></circle><circle cx="1225.6" cy="623.1" r="7.3"></circle><circle cx="1231.1" cy="622.6" r="7.3"></circle><circle cx="1236.6" cy="622.8" r="7.3"></circle><circle cx="1242.1" cy="622.2" r="7.3"></circle><circle cx="1247.7" cy="623.1" r="7.3"></circle><circle cx="1253.2" cy="622.4" r="7.3"></circle><circle cx="1258.7" cy="622.0" r="7.3"></circle><circle cx="1264.2" cy="623.2" r="7.3"></circle><circle cx="1269.7" cy="622.3" r="7.3"></circle><circle cx="1275.2" cy="622.1" r="7.3"></circle><circle cx="1280.8" cy="622.4" r="7.3"></circle><circle cx="1286.3" cy="622.4" r="7.3"></circle><circle cx="1291.8" cy="623.2" r="7.3"></circle><circle cx="1297.3" cy="621.3" r="7.3"></circle></g>
</g>
<rect x="194.0" y="588.0" width="1103.3" height="414.29999999999995" fill="none" stroke="#000" stroke-width="2.8"></rect>
<line x1="179.10" y1="1002.30" x2="194.00" y2="1002.30" stroke="#000" stroke-width="2.6" stroke-linecap="butt"></line>
<line x1="186.80" y1="981.58" x2="194.00" y2="981.58" stroke="#000" stroke-width="2.6" stroke-linecap="butt"></line>
<line x1="179.10" y1="960.87" x2="194.00" y2="960.87" stroke="#000" stroke-width="2.6" stroke-linecap="butt"></line>
<line x1="186.80" y1="940.15" x2="194.00" y2="940.15" stroke="#000" stroke-width="2.6" stroke-linecap="butt"></line>
<line x1="179.10" y1="919.44" x2="194.00" y2="919.44" stroke="#000" stroke-width="2.6" stroke-linecap="butt"></line>
<line x1="186.80" y1="898.72" x2="194.00" y2="898.72" stroke="#000" stroke-width="2.6" stroke-linecap="butt"></line>
<line x1="179.10" y1="878.01" x2="194.00" y2="878.01" stroke="#000" stroke-width="2.6" stroke-linecap="butt"></line>
<line x1="186.80" y1="857.29" x2="194.00" y2="857.29" stroke="#000" stroke-width="2.6" stroke-linecap="butt"></line>
<line x1="179.10" y1="836.58" x2="194.00" y2="836.58" stroke="#000" stroke-width="2.6" stroke-linecap="butt"></line>
<line x1="186.80" y1="815.87" x2="194.00" y2="815.87" stroke="#000" stroke-width="2.6" stroke-linecap="butt"></line>
<line x1="179.10" y1="795.15" x2="194.00" y2="795.15" stroke="#000" stroke-width="2.6" stroke-linecap="butt"></line>
<line x1="186.80" y1="774.43" x2="194.00" y2="774.43" stroke="#000" stroke-width="2.6" stroke-linecap="butt"></line>
<line x1="179.10" y1="753.72" x2="194.00" y2="753.72" stroke="#000" stroke-width="2.6" stroke-linecap="butt"></line>
<line x1="186.80" y1="733.00" x2="194.00" y2="733.00" stroke="#000" stroke-width="2.6" stroke-linecap="butt"></line>
<line x1="179.10" y1="712.29" x2="194.00" y2="712.29" stroke="#000" stroke-width="2.6" stroke-linecap="butt"></line>
<line x1="186.80" y1="691.58" x2="194.00" y2="691.58" stroke="#000" stroke-width="2.6" stroke-linecap="butt"></line>
<line x1="179.10" y1="670.86" x2="194.00" y2="670.86" stroke="#000" stroke-width="2.6" stroke-linecap="butt"></line>
<line x1="186.80" y1="650.14" x2="194.00" y2="650.14" stroke="#000" stroke-width="2.6" stroke-linecap="butt"></line>
<line x1="179.10" y1="629.43" x2="194.00" y2="629.43" stroke="#000" stroke-width="2.6" stroke-linecap="butt"></line>
<line x1="186.80" y1="608.72" x2="194.00" y2="608.72" stroke="#000" stroke-width="2.6" stroke-linecap="butt"></line>
<line x1="179.10" y1="588.00" x2="194.00" y2="588.00" stroke="#000" stroke-width="2.6" stroke-linecap="butt"></line>
<text x="167.8" y="1010.1" font-size="26" text-anchor="end">0</text>
<text x="167.8" y="968.7" font-size="26" text-anchor="end">2</text>
<text x="167.8" y="927.2" font-size="26" text-anchor="end">4</text>
<text x="167.8" y="885.8" font-size="26" text-anchor="end">6</text>
<text x="167.8" y="844.4" font-size="26" text-anchor="end">8</text>
<text x="167.8" y="802.9" font-size="26" text-anchor="end">10</text><rect x="148.56" y="799.65" width="5.15" height="3.95" fill="#fdfdfd"></rect><rect x="139.42" y="799.65" width="5.48" height="3.95" fill="#fdfdfd"></rect>
<text x="167.8" y="761.5" font-size="26" text-anchor="end">12</text><rect x="148.56" y="758.25" width="5.15" height="3.95" fill="#fdfdfd"></rect><rect x="139.42" y="758.25" width="5.48" height="3.95" fill="#fdfdfd"></rect>
<text x="167.8" y="720.1" font-size="26" text-anchor="end">14</text><rect x="148.56" y="716.85" width="5.15" height="3.95" fill="#fdfdfd"></rect><rect x="139.42" y="716.85" width="5.48" height="3.95" fill="#fdfdfd"></rect>
<text x="167.8" y="678.7" font-size="26" text-anchor="end">16</text><rect x="148.56" y="675.45" width="5.15" height="3.95" fill="#fdfdfd"></rect><rect x="139.42" y="675.45" width="5.48" height="3.95" fill="#fdfdfd"></rect>
<text x="167.8" y="637.2" font-size="26" text-anchor="end">18</text><rect x="148.56" y="633.95" width="5.15" height="3.95" fill="#fdfdfd"></rect><rect x="139.42" y="633.95" width="5.48" height="3.95" fill="#fdfdfd"></rect>
<text x="167.8" y="595.8" font-size="26" text-anchor="end">20</text>
<line x1="1297.30" y1="1002.30" x2="1312.20" y2="1002.30" stroke="#000" stroke-width="2.6" stroke-linecap="butt"></line>
<line x1="1297.30" y1="981.58" x2="1304.50" y2="981.58" stroke="#000" stroke-width="2.6" stroke-linecap="butt"></line>
<line x1="1297.30" y1="960.87" x2="1312.20" y2="960.87" stroke="#000" stroke-width="2.6" stroke-linecap="butt"></line>
<line x1="1297.30" y1="940.15" x2="1304.50" y2="940.15" stroke="#000" stroke-width="2.6" stroke-linecap="butt"></line>
<line x1="1297.30" y1="919.44" x2="1312.20" y2="919.44" stroke="#000" stroke-width="2.6" stroke-linecap="butt"></line>
<line x1="1297.30" y1="898.72" x2="1304.50" y2="898.72" stroke="#000" stroke-width="2.6" stroke-linecap="butt"></line>
<line x1="1297.30" y1="878.01" x2="1312.20" y2="878.01" stroke="#000" stroke-width="2.6" stroke-linecap="butt"></line>
<line x1="1297.30" y1="857.29" x2="1304.50" y2="857.29" stroke="#000" stroke-width="2.6" stroke-linecap="butt"></line>
<line x1="1297.30" y1="836.58" x2="1312.20" y2="836.58" stroke="#000" stroke-width="2.6" stroke-linecap="butt"></line>
<line x1="1297.30" y1="815.87" x2="1304.50" y2="815.87" stroke="#000" stroke-width="2.6" stroke-linecap="butt"></line>
<line x1="1297.30" y1="795.15" x2="1312.20" y2="795.15" stroke="#000" stroke-width="2.6" stroke-linecap="butt"></line>
<line x1="1297.30" y1="774.43" x2="1304.50" y2="774.43" stroke="#000" stroke-width="2.6" stroke-linecap="butt"></line>
<line x1="1297.30" y1="753.72" x2="1312.20" y2="753.72" stroke="#000" stroke-width="2.6" stroke-linecap="butt"></line>
<line x1="1297.30" y1="733.00" x2="1304.50" y2="733.00" stroke="#000" stroke-width="2.6" stroke-linecap="butt"></line>
<line x1="1297.30" y1="712.29" x2="1312.20" y2="712.29" stroke="#000" stroke-width="2.6" stroke-linecap="butt"></line>
<line x1="1297.30" y1="691.58" x2="1304.50" y2="691.58" stroke="#000" stroke-width="2.6" stroke-linecap="butt"></line>
<line x1="1297.30" y1="670.86" x2="1312.20" y2="670.86" stroke="#000" stroke-width="2.6" stroke-linecap="butt"></line>
<line x1="1297.30" y1="650.14" x2="1304.50" y2="650.14" stroke="#000" stroke-width="2.6" stroke-linecap="butt"></line>
<line x1="1297.30" y1="629.43" x2="1312.20" y2="629.43" stroke="#000" stroke-width="2.6" stroke-linecap="butt"></line>
<line x1="1297.30" y1="608.72" x2="1304.50" y2="608.72" stroke="#000" stroke-width="2.6" stroke-linecap="butt"></line>
<line x1="1297.30" y1="588.00" x2="1312.20" y2="588.00" stroke="#000" stroke-width="2.6" stroke-linecap="butt"></line>
<text x="1323.8" y="1010.1" font-size="26" text-anchor="start">0</text>
<text x="1323.8" y="968.7" font-size="26" text-anchor="start">10</text><rect x="1333.49" y="965.45" width="5.15" height="3.95" fill="#fdfdfd"></rect><rect x="1324.34" y="965.45" width="5.48" height="3.95" fill="#fdfdfd"></rect>
<text x="1323.8" y="927.2" font-size="26" text-anchor="start">20</text>
<text x="1323.8" y="885.8" font-size="26" text-anchor="start">30</text>
<text x="1323.8" y="844.4" font-size="26" text-anchor="start">40</text>
<text x="1323.8" y="802.9" font-size="26" text-anchor="start">50</text>
<text x="1323.8" y="761.5" font-size="26" text-anchor="start">60</text>
<text x="1323.8" y="720.1" font-size="26" text-anchor="start">70</text>
<text x="1323.8" y="678.7" font-size="26" text-anchor="start">80</text>
<text x="1323.8" y="637.2" font-size="26" text-anchor="start">90</text>
<text x="1323.8" y="595.8" font-size="26" text-anchor="start">100</text><rect x="1333.49" y="592.55" width="5.15" height="3.95" fill="#fdfdfd"></rect><rect x="1324.34" y="592.55" width="5.48" height="3.95" fill="#fdfdfd"></rect>
<line x1="194.00" y1="1002.30" x2="194.00" y2="1017.20" stroke="#000" stroke-width="2.6" stroke-linecap="butt"></line>
<line x1="221.58" y1="1002.30" x2="221.58" y2="1009.50" stroke="#000" stroke-width="2.6" stroke-linecap="butt"></line>
<line x1="249.16" y1="1002.30" x2="249.16" y2="1017.20" stroke="#000" stroke-width="2.6" stroke-linecap="butt"></line>
<line x1="276.75" y1="1002.30" x2="276.75" y2="1009.50" stroke="#000" stroke-width="2.6" stroke-linecap="butt"></line>
<line x1="304.33" y1="1002.30" x2="304.33" y2="1017.20" stroke="#000" stroke-width="2.6" stroke-linecap="butt"></line>
<line x1="331.91" y1="1002.30" x2="331.91" y2="1009.50" stroke="#000" stroke-width="2.6" stroke-linecap="butt"></line>
<line x1="359.50" y1="1002.30" x2="359.50" y2="1017.20" stroke="#000" stroke-width="2.6" stroke-linecap="butt"></line>
<line x1="387.08" y1="1002.30" x2="387.08" y2="1009.50" stroke="#000" stroke-width="2.6" stroke-linecap="butt"></line>
<line x1="414.66" y1="1002.30" x2="414.66" y2="1017.20" stroke="#000" stroke-width="2.6" stroke-linecap="butt"></line>
<line x1="442.24" y1="1002.30" x2="442.24" y2="1009.50" stroke="#000" stroke-width="2.6" stroke-linecap="butt"></line>
<line x1="469.82" y1="1002.30" x2="469.82" y2="1017.20" stroke="#000" stroke-width="2.6" stroke-linecap="butt"></line>
<line x1="497.41" y1="1002.30" x2="497.41" y2="1009.50" stroke="#000" stroke-width="2.6" stroke-linecap="butt"></line>
<line x1="524.99" y1="1002.30" x2="524.99" y2="1017.20" stroke="#000" stroke-width="2.6" stroke-linecap="butt"></line>
<line x1="552.57" y1="1002.30" x2="552.57" y2="1009.50" stroke="#000" stroke-width="2.6" stroke-linecap="butt"></line>
<line x1="580.15" y1="1002.30" x2="580.15" y2="1017.20" stroke="#000" stroke-width="2.6" stroke-linecap="butt"></line>
<line x1="607.74" y1="1002.30" x2="607.74" y2="1009.50" stroke="#000" stroke-width="2.6" stroke-linecap="butt"></line>
<line x1="635.32" y1="1002.30" x2="635.32" y2="1017.20" stroke="#000" stroke-width="2.6" stroke-linecap="butt"></line>
<line x1="662.90" y1="1002.30" x2="662.90" y2="1009.50" stroke="#000" stroke-width="2.6" stroke-linecap="butt"></line>
<line x1="690.49" y1="1002.30" x2="690.49" y2="1017.20" stroke="#000" stroke-width="2.6" stroke-linecap="butt"></line>
<line x1="718.07" y1="1002.30" x2="718.07" y2="1009.50" stroke="#000" stroke-width="2.6" stroke-linecap="butt"></line>
<line x1="745.65" y1="1002.30" x2="745.65" y2="1017.20" stroke="#000" stroke-width="2.6" stroke-linecap="butt"></line>
<line x1="773.23" y1="1002.30" x2="773.23" y2="1009.50" stroke="#000" stroke-width="2.6" stroke-linecap="butt"></line>
<line x1="800.82" y1="1002.30" x2="800.82" y2="1017.20" stroke="#000" stroke-width="2.6" stroke-linecap="butt"></line>
<line x1="828.40" y1="1002.30" x2="828.40" y2="1009.50" stroke="#000" stroke-width="2.6" stroke-linecap="butt"></line>
<line x1="855.98" y1="1002.30" x2="855.98" y2="1017.20" stroke="#000" stroke-width="2.6" stroke-linecap="butt"></line>
<line x1="883.56" y1="1002.30" x2="883.56" y2="1009.50" stroke="#000" stroke-width="2.6" stroke-linecap="butt"></line>
<line x1="911.14" y1="1002.30" x2="911.14" y2="1017.20" stroke="#000" stroke-width="2.6" stroke-linecap="butt"></line>
<line x1="938.73" y1="1002.30" x2="938.73" y2="1009.50" stroke="#000" stroke-width="2.6" stroke-linecap="butt"></line>
<line x1="966.31" y1="1002.30" x2="966.31" y2="1017.20" stroke="#000" stroke-width="2.6" stroke-linecap="butt"></line>
<line x1="993.89" y1="1002.30" x2="993.89" y2="1009.50" stroke="#000" stroke-width="2.6" stroke-linecap="butt"></line>
<line x1="1021.48" y1="1002.30" x2="1021.48" y2="1017.20" stroke="#000" stroke-width="2.6" stroke-linecap="butt"></line>
<line x1="1049.06" y1="1002.30" x2="1049.06" y2="1009.50" stroke="#000" stroke-width="2.6" stroke-linecap="butt"></line>
<line x1="1076.64" y1="1002.30" x2="1076.64" y2="1017.20" stroke="#000" stroke-width="2.6" stroke-linecap="butt"></line>
<line x1="1104.22" y1="1002.30" x2="1104.22" y2="1009.50" stroke="#000" stroke-width="2.6" stroke-linecap="butt"></line>
<line x1="1131.80" y1="1002.30" x2="1131.80" y2="1017.20" stroke="#000" stroke-width="2.6" stroke-linecap="butt"></line>
<line x1="1159.39" y1="1002.30" x2="1159.39" y2="1009.50" stroke="#000" stroke-width="2.6" stroke-linecap="butt"></line>
<line x1="1186.97" y1="1002.30" x2="1186.97" y2="1017.20" stroke="#000" stroke-width="2.6" stroke-linecap="butt"></line>
<line x1="1214.55" y1="1002.30" x2="1214.55" y2="1009.50" stroke="#000" stroke-width="2.6" stroke-linecap="butt"></line>
<line x1="1242.13" y1="1002.30" x2="1242.13" y2="1017.20" stroke="#000" stroke-width="2.6" stroke-linecap="butt"></line>
<line x1="1269.72" y1="1002.30" x2="1269.72" y2="1009.50" stroke="#000" stroke-width="2.6" stroke-linecap="butt"></line>
<line x1="1297.30" y1="1002.30" x2="1297.30" y2="1017.20" stroke="#000" stroke-width="2.6" stroke-linecap="butt"></line>
<text x="194.0" y="1047.6" font-size="26" text-anchor="middle">0</text>
<text x="249.2" y="1047.6" font-size="26" text-anchor="middle">10</text><rect x="244.42" y="1044.35" width="5.15" height="3.95" fill="#fdfdfd"></rect><rect x="235.28" y="1044.35" width="5.48" height="3.95" fill="#fdfdfd"></rect>
<text x="304.3" y="1047.6" font-size="26" text-anchor="middle">20</text>
<text x="359.5" y="1047.6" font-size="26" text-anchor="middle">30</text>
<text x="414.7" y="1047.6" font-size="26" text-anchor="middle">40</text>
<text x="469.8" y="1047.6" font-size="26" text-anchor="middle">50</text>
<text x="525.0" y="1047.6" font-size="26" text-anchor="middle">60</text>
<text x="580.2" y="1047.6" font-size="26" text-anchor="middle">70</text>
<text x="635.3" y="1047.6" font-size="26" text-anchor="middle">80</text>
<text x="690.5" y="1047.6" font-size="26" text-anchor="middle">90</text>
<text x="745.6" y="1047.6" font-size="26" text-anchor="middle">100</text><rect x="733.59" y="1044.35" width="5.15" height="3.95" fill="#fdfdfd"></rect><rect x="724.44" y="1044.35" width="5.48" height="3.95" fill="#fdfdfd"></rect>
<text x="800.8" y="1047.6" font-size="26" text-anchor="middle">110</text><rect x="802.52" y="1044.35" width="5.15" height="3.95" fill="#fdfdfd"></rect><rect x="793.38" y="1044.35" width="5.48" height="3.95" fill="#fdfdfd"></rect><rect x="789.51" y="1044.35" width="5.15" height="3.95" fill="#fdfdfd"></rect><rect x="780.36" y="1044.35" width="5.48" height="3.95" fill="#fdfdfd"></rect>
<text x="856.0" y="1047.6" font-size="26" text-anchor="middle">120</text><rect x="843.99" y="1044.35" width="5.15" height="3.95" fill="#fdfdfd"></rect><rect x="834.84" y="1044.35" width="5.48" height="3.95" fill="#fdfdfd"></rect>
<text x="911.1" y="1047.6" font-size="26" text-anchor="middle">130</text><rect x="899.09" y="1044.35" width="5.15" height="3.95" fill="#fdfdfd"></rect><rect x="889.94" y="1044.35" width="5.48" height="3.95" fill="#fdfdfd"></rect>
<text x="966.3" y="1047.6" font-size="26" text-anchor="middle">140</text><rect x="954.29" y="1044.35" width="5.15" height="3.95" fill="#fdfdfd"></rect><rect x="945.14" y="1044.35" width="5.48" height="3.95" fill="#fdfdfd"></rect>
<text x="1021.5" y="1047.6" font-size="26" text-anchor="middle">150</text><rect x="1009.49" y="1044.35" width="5.15" height="3.95" fill="#fdfdfd"></rect><rect x="1000.34" y="1044.35" width="5.48" height="3.95" fill="#fdfdfd"></rect>
<text x="1076.6" y="1047.6" font-size="26" text-anchor="middle">160</text><rect x="1064.59" y="1044.35" width="5.15" height="3.95" fill="#fdfdfd"></rect><rect x="1055.44" y="1044.35" width="5.48" height="3.95" fill="#fdfdfd"></rect>
<text x="1131.8" y="1047.6" font-size="26" text-anchor="middle">170</text><rect x="1119.79" y="1044.35" width="5.15" height="3.95" fill="#fdfdfd"></rect><rect x="1110.64" y="1044.35" width="5.48" height="3.95" fill="#fdfdfd"></rect>
<text x="1187.0" y="1047.6" font-size="26" text-anchor="middle">180</text><rect x="1174.99" y="1044.35" width="5.15" height="3.95" fill="#fdfdfd"></rect><rect x="1165.84" y="1044.35" width="5.48" height="3.95" fill="#fdfdfd"></rect>
<text x="1242.1" y="1047.6" font-size="26" text-anchor="middle">190</text><rect x="1230.09" y="1044.35" width="5.15" height="3.95" fill="#fdfdfd"></rect><rect x="1220.94" y="1044.35" width="5.48" height="3.95" fill="#fdfdfd"></rect>
<text x="1297.3" y="1047.6" font-size="26" text-anchor="middle">200</text>
<text x="745.8" y="1087.7" font-size="30.5" text-anchor="middle">Cycle number</text>
<g transform="translate(124.5,795) rotate(-90)"><text x="0" y="0" font-size="30.5" text-anchor="middle">Specific capacity (mAh g<tspan font-size="19.5" dy="-12.5">-1</tspan><tspan dy="12.5">)</tspan></text><rect x="180.52" y="-15.09" width="4.13" height="3.29" fill="#fdfdfd"></rect><rect x="173.37" y="-15.09" width="4.37" height="3.29" fill="#fdfdfd"></rect></g>
<g transform="translate(1400.6,794.8) rotate(-90)"><text x="0" y="0" font-size="30.3" text-anchor="middle">Coulombic efficiency (%)</text></g>
<text x="27.0" y="601.0" font-size="48" text-anchor="start">c)</text>
<circle cx="977.4" cy="746.5" r="8.4" fill="#525252"></circle>
<circle cx="1036" cy="746.5" r="7.4" fill="#fff" stroke="#525252" stroke-width="2"></circle>
<circle cx="977.4" cy="776.6" r="8.4" fill="#f34141"></circle>
<circle cx="1036" cy="776.6" r="7.4" fill="#fff" stroke="#f34141" stroke-width="2"></circle>
<text x="1068.5" y="754.8" font-size="20.8" text-anchor="start">Expanded graphite</text>
<text x="1068.5" y="784.0" font-size="20.8" text-anchor="start">Graphite</text>
<text x="1069" y="824.4" font-size="20.5">100 mA g<tspan font-size="16" dy="-9">-1</tspan></text><rect x="1170.70" y="813.17" width="3.57" height="2.93" fill="#fdfdfd"></rect><rect x="1164.63" y="813.17" width="3.78" height="2.93" fill="#fdfdfd"></rect><rect x="1076.65" y="821.71" width="4.28" height="3.39" fill="#fdfdfd"></rect><rect x="1069.19" y="821.71" width="4.54" height="3.39" fill="#fdfdfd"></rect>
<path d="M274.9,940.2 C261.5,966.5 241.4,972.8 219.5,978.4" fill="none" stroke="#000" stroke-width="2.5"></path>
<path d="M198.1,979.4 L219.5,973.8 L219.5,984.3 Z" fill="#000"></path>
<path d="M1199.3,647.4 C1221.7,676.5 1244.7,677.1 1261.0,679.4" fill="none" stroke="#000" stroke-width="2.5"></path>
<path d="M1281.4,680.2 L1260.2,674.8 L1260.2,684.8 Z" fill="#000"></path>
</svg>
</body></html>
